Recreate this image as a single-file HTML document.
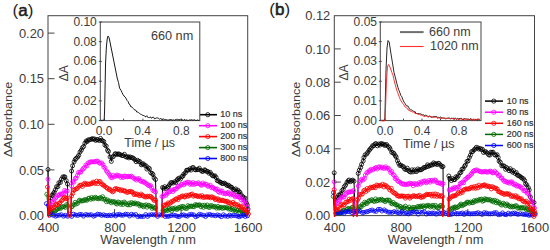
<!DOCTYPE html>
<html><head><meta charset="utf-8"><style>
html,body{margin:0;padding:0;background:#fff;width:550px;height:250px;overflow:hidden}
svg{display:block}
text{font-family:"Liberation Sans",sans-serif}
</style></head><body><svg width="550" height="250" viewBox="0 0 550 250" font-family="&quot;Liberation Sans&quot;, sans-serif" fill="#3c3c3c"><rect x="48.0" y="15.7" width="199.7" height="199.9" fill="none" stroke="#444" stroke-width="1"/><line x1="114.6" y1="215.6" x2="114.6" y2="209.1" stroke="#444" stroke-width="1"/><line x1="181.1" y1="215.6" x2="181.1" y2="209.1" stroke="#444" stroke-width="1"/><path d="M48.0 169.5L48.7 213.0L49.5 211.0L50.6 198.0L52.0 195.4L53.1 194.0L54.1 192.3L55.3 189.9L56.5 186.7L57.9 186.6L58.9 182.7L60.4 182.5L61.5 179.1L62.9 176.8L64.1 177.0L64.9 176.9L66.2 180.6L67.5 184.0L67.9 214.0M71.2 214.0L71.6 171.0L72.6 165.8L74.1 161.9L75.2 159.5L76.2 158.3L77.7 157.0L78.7 155.4L80.0 152.0L81.3 150.2L82.3 147.8L83.6 146.5L84.9 143.2L86.2 141.0L87.1 141.6L88.2 139.9L89.3 139.9L90.9 139.4L92.2 138.6L93.3 139.3L94.4 138.9L95.7 140.4L96.8 139.6L97.7 139.7L99.2 140.5L100.5 138.4L101.5 140.3L102.5 140.8L103.8 141.5L104.9 145.1L106.2 146.0L107.5 150.2L108.5 151.4L110.0 156.9L111.3 161.4L112.2 157.1L113.5 156.4L115.0 153.9L115.8 153.8L117.0 154.5L118.4 153.8L119.3 154.3L120.7 154.9L122.2 155.5L123.1 155.6L124.4 154.3L125.7 156.7L126.9 157.2L127.9 156.7L128.9 157.9L130.1 156.9L131.4 157.6L132.6 157.8L133.7 158.5L134.9 159.7L136.1 161.7L137.6 160.3L138.6 161.5L139.9 161.6L141.3 164.8L142.3 164.0L143.3 163.8L144.6 165.2L146.1 165.9L146.9 169.1L148.3 167.8L149.5 168.7L150.7 172.7L152.1 173.4L153.0 174.6L154.1 177.9L155.5 179.5L156.5 215.0M161.8 215.0L162.5 187.5L163.7 188.3L164.8 186.7L166.2 188.8L167.5 187.4L168.6 186.3L169.5 184.8L170.8 182.7L171.8 182.6L173.1 183.1L174.7 181.7L175.9 182.5L177.1 180.0L177.9 178.9L179.1 178.1L180.5 179.1L181.8 176.6L182.9 176.1L183.8 174.1L185.4 172.8L186.5 170.3L187.4 170.2L188.7 170.0L190.2 168.7L191.1 170.1L192.5 167.7L193.4 167.6L195.0 169.6L195.8 169.9L197.4 169.6L198.3 169.5L199.3 168.2L201.0 170.3L201.9 171.3L203.1 171.4L204.5 169.8L205.4 170.3L206.6 171.5L207.8 171.4L208.9 173.2L210.2 172.3L211.5 174.4L212.6 175.8L213.9 176.0L215.1 175.9L216.2 177.6L217.2 180.6L218.5 180.9L219.9 182.1L220.9 182.4L222.2 183.6L223.2 183.4L224.5 183.1L225.9 184.2L227.0 185.5L228.4 185.2L229.4 186.0L230.6 187.1L231.7 187.3L233.0 189.3L234.3 189.9L235.6 188.9L236.6 191.6L237.9 190.1L238.8 191.7L239.9 192.2L241.1 194.7L242.7 196.5L243.5 197.8L245.0 198.1L246.3 203.0L247.3 205.0L248.0 209.0" fill="none" stroke="#000" stroke-width="1.00" stroke-linejoin="round"/><g fill="none" stroke="#000" stroke-width="0.80"><circle cx="48.0" cy="169.5" r="2.00"/><circle cx="49.5" cy="211.0" r="2.00"/><circle cx="50.6" cy="198.0" r="2.00"/><circle cx="52.0" cy="195.4" r="2.00"/><circle cx="53.1" cy="194.0" r="2.00"/><circle cx="54.1" cy="192.3" r="2.00"/><circle cx="55.3" cy="189.9" r="2.00"/><circle cx="56.5" cy="186.7" r="2.00"/><circle cx="57.9" cy="186.6" r="2.00"/><circle cx="58.9" cy="182.7" r="2.00"/><circle cx="60.4" cy="182.5" r="2.00"/><circle cx="61.5" cy="179.1" r="2.00"/><circle cx="62.9" cy="176.8" r="2.00"/><circle cx="64.1" cy="177.0" r="2.00"/><circle cx="64.9" cy="176.9" r="2.00"/><circle cx="66.2" cy="180.6" r="2.00"/><circle cx="67.5" cy="184.0" r="2.00"/><circle cx="71.6" cy="171.0" r="2.00"/><circle cx="72.6" cy="165.8" r="2.00"/><circle cx="74.1" cy="161.9" r="2.00"/><circle cx="75.2" cy="159.5" r="2.00"/><circle cx="76.2" cy="158.3" r="2.00"/><circle cx="77.7" cy="157.0" r="2.00"/><circle cx="78.7" cy="155.4" r="2.00"/><circle cx="80.0" cy="152.0" r="2.00"/><circle cx="81.3" cy="150.2" r="2.00"/><circle cx="82.3" cy="147.8" r="2.00"/><circle cx="83.6" cy="146.5" r="2.00"/><circle cx="84.9" cy="143.2" r="2.00"/><circle cx="86.2" cy="141.0" r="2.00"/><circle cx="87.1" cy="141.6" r="2.00"/><circle cx="88.2" cy="139.9" r="2.00"/><circle cx="89.3" cy="139.9" r="2.00"/><circle cx="90.9" cy="139.4" r="2.00"/><circle cx="92.2" cy="138.6" r="2.00"/><circle cx="93.3" cy="139.3" r="2.00"/><circle cx="94.4" cy="138.9" r="2.00"/><circle cx="95.7" cy="140.4" r="2.00"/><circle cx="96.8" cy="139.6" r="2.00"/><circle cx="97.7" cy="139.7" r="2.00"/><circle cx="99.2" cy="140.5" r="2.00"/><circle cx="100.5" cy="138.4" r="2.00"/><circle cx="101.5" cy="140.3" r="2.00"/><circle cx="102.5" cy="140.8" r="2.00"/><circle cx="103.8" cy="141.5" r="2.00"/><circle cx="104.9" cy="145.1" r="2.00"/><circle cx="106.2" cy="146.0" r="2.00"/><circle cx="107.5" cy="150.2" r="2.00"/><circle cx="108.5" cy="151.4" r="2.00"/><circle cx="110.0" cy="156.9" r="2.00"/><circle cx="111.3" cy="161.4" r="2.00"/><circle cx="112.2" cy="157.1" r="2.00"/><circle cx="113.5" cy="156.4" r="2.00"/><circle cx="115.0" cy="153.9" r="2.00"/><circle cx="115.8" cy="153.8" r="2.00"/><circle cx="117.0" cy="154.5" r="2.00"/><circle cx="118.4" cy="153.8" r="2.00"/><circle cx="119.3" cy="154.3" r="2.00"/><circle cx="120.7" cy="154.9" r="2.00"/><circle cx="122.2" cy="155.5" r="2.00"/><circle cx="123.1" cy="155.6" r="2.00"/><circle cx="124.4" cy="154.3" r="2.00"/><circle cx="125.7" cy="156.7" r="2.00"/><circle cx="126.9" cy="157.2" r="2.00"/><circle cx="127.9" cy="156.7" r="2.00"/><circle cx="128.9" cy="157.9" r="2.00"/><circle cx="130.1" cy="156.9" r="2.00"/><circle cx="131.4" cy="157.6" r="2.00"/><circle cx="132.6" cy="157.8" r="2.00"/><circle cx="133.7" cy="158.5" r="2.00"/><circle cx="134.9" cy="159.7" r="2.00"/><circle cx="136.1" cy="161.7" r="2.00"/><circle cx="137.6" cy="160.3" r="2.00"/><circle cx="138.6" cy="161.5" r="2.00"/><circle cx="139.9" cy="161.6" r="2.00"/><circle cx="141.3" cy="164.8" r="2.00"/><circle cx="142.3" cy="164.0" r="2.00"/><circle cx="143.3" cy="163.8" r="2.00"/><circle cx="144.6" cy="165.2" r="2.00"/><circle cx="146.1" cy="165.9" r="2.00"/><circle cx="146.9" cy="169.1" r="2.00"/><circle cx="148.3" cy="167.8" r="2.00"/><circle cx="149.5" cy="168.7" r="2.00"/><circle cx="150.7" cy="172.7" r="2.00"/><circle cx="152.1" cy="173.4" r="2.00"/><circle cx="153.0" cy="174.6" r="2.00"/><circle cx="154.1" cy="177.9" r="2.00"/><circle cx="155.5" cy="179.5" r="2.00"/><circle cx="162.5" cy="187.5" r="2.00"/><circle cx="163.7" cy="188.3" r="2.00"/><circle cx="164.8" cy="186.7" r="2.00"/><circle cx="166.2" cy="188.8" r="2.00"/><circle cx="167.5" cy="187.4" r="2.00"/><circle cx="168.6" cy="186.3" r="2.00"/><circle cx="169.5" cy="184.8" r="2.00"/><circle cx="170.8" cy="182.7" r="2.00"/><circle cx="171.8" cy="182.6" r="2.00"/><circle cx="173.1" cy="183.1" r="2.00"/><circle cx="174.7" cy="181.7" r="2.00"/><circle cx="175.9" cy="182.5" r="2.00"/><circle cx="177.1" cy="180.0" r="2.00"/><circle cx="177.9" cy="178.9" r="2.00"/><circle cx="179.1" cy="178.1" r="2.00"/><circle cx="180.5" cy="179.1" r="2.00"/><circle cx="181.8" cy="176.6" r="2.00"/><circle cx="182.9" cy="176.1" r="2.00"/><circle cx="183.8" cy="174.1" r="2.00"/><circle cx="185.4" cy="172.8" r="2.00"/><circle cx="186.5" cy="170.3" r="2.00"/><circle cx="187.4" cy="170.2" r="2.00"/><circle cx="188.7" cy="170.0" r="2.00"/><circle cx="190.2" cy="168.7" r="2.00"/><circle cx="191.1" cy="170.1" r="2.00"/><circle cx="192.5" cy="167.7" r="2.00"/><circle cx="193.4" cy="167.6" r="2.00"/><circle cx="195.0" cy="169.6" r="2.00"/><circle cx="195.8" cy="169.9" r="2.00"/><circle cx="197.4" cy="169.6" r="2.00"/><circle cx="198.3" cy="169.5" r="2.00"/><circle cx="199.3" cy="168.2" r="2.00"/><circle cx="201.0" cy="170.3" r="2.00"/><circle cx="201.9" cy="171.3" r="2.00"/><circle cx="203.1" cy="171.4" r="2.00"/><circle cx="204.5" cy="169.8" r="2.00"/><circle cx="205.4" cy="170.3" r="2.00"/><circle cx="206.6" cy="171.5" r="2.00"/><circle cx="207.8" cy="171.4" r="2.00"/><circle cx="208.9" cy="173.2" r="2.00"/><circle cx="210.2" cy="172.3" r="2.00"/><circle cx="211.5" cy="174.4" r="2.00"/><circle cx="212.6" cy="175.8" r="2.00"/><circle cx="213.9" cy="176.0" r="2.00"/><circle cx="215.1" cy="175.9" r="2.00"/><circle cx="216.2" cy="177.6" r="2.00"/><circle cx="217.2" cy="180.6" r="2.00"/><circle cx="218.5" cy="180.9" r="2.00"/><circle cx="219.9" cy="182.1" r="2.00"/><circle cx="220.9" cy="182.4" r="2.00"/><circle cx="222.2" cy="183.6" r="2.00"/><circle cx="223.2" cy="183.4" r="2.00"/><circle cx="224.5" cy="183.1" r="2.00"/><circle cx="225.9" cy="184.2" r="2.00"/><circle cx="227.0" cy="185.5" r="2.00"/><circle cx="228.4" cy="185.2" r="2.00"/><circle cx="229.4" cy="186.0" r="2.00"/><circle cx="230.6" cy="187.1" r="2.00"/><circle cx="231.7" cy="187.3" r="2.00"/><circle cx="233.0" cy="189.3" r="2.00"/><circle cx="234.3" cy="189.9" r="2.00"/><circle cx="235.6" cy="188.9" r="2.00"/><circle cx="236.6" cy="191.6" r="2.00"/><circle cx="237.9" cy="190.1" r="2.00"/><circle cx="238.8" cy="191.7" r="2.00"/><circle cx="239.9" cy="192.2" r="2.00"/><circle cx="241.1" cy="194.7" r="2.00"/><circle cx="242.7" cy="196.5" r="2.00"/><circle cx="243.5" cy="197.8" r="2.00"/><circle cx="245.0" cy="198.1" r="2.00"/><circle cx="246.3" cy="203.0" r="2.00"/><circle cx="247.3" cy="205.0" r="2.00"/><circle cx="248.0" cy="209.0" r="2.00"/></g><path d="M48.0 179.2L48.7 213.0L49.5 211.0L50.5 206.0L51.8 202.1L53.3 201.9L54.1 199.6L55.4 198.1L56.4 197.0L57.9 195.2L59.0 195.5L59.9 194.2L61.4 193.8L62.3 194.2L63.8 193.3L64.6 190.4L65.8 191.4L67.2 191.0L67.9 215.0M71.1 215.0L71.5 186.0L72.6 181.7L73.9 182.1L75.3 178.3L76.1 178.1L77.5 175.4L78.5 172.4L80.0 172.2L80.9 172.0L82.4 169.8L83.3 168.6L84.5 167.5L85.9 165.0L87.1 165.8L88.2 162.9L89.5 162.5L90.5 161.9L91.7 161.8L93.0 161.9L94.4 161.8L95.5 161.6L96.6 161.1L97.8 161.3L99.2 163.0L100.1 163.1L101.7 162.9L102.9 164.6L103.9 167.1L105.0 167.8L106.4 170.8L107.4 172.2L108.8 173.8L109.9 175.4L110.9 177.4L112.1 177.9L113.4 175.3L114.5 176.6L116.1 176.1L117.0 175.0L118.2 175.7L119.3 175.8L120.6 177.4L122.1 176.3L123.0 177.6L124.2 176.0L125.3 176.2L126.7 176.7L127.8 176.8L128.9 176.2L130.1 176.8L131.3 176.1L132.6 177.1L133.9 178.3L135.2 179.0L136.4 180.0L137.4 178.8L138.9 178.6L140.0 180.4L140.9 181.4L142.5 181.3L143.6 182.3L144.5 181.9L145.9 183.5L147.3 184.3L148.3 185.4L149.6 186.0L150.6 185.5L151.7 187.8L152.9 190.5L154.3 191.2L155.5 192.0L156.5 216.0M161.5 216.0L162.0 196.5L163.3 196.4L164.4 193.9L165.8 195.3L166.8 194.0L168.1 192.0L169.3 191.8L170.2 191.1L171.7 190.2L172.9 191.6L174.0 189.3L175.2 189.4L176.6 188.6L177.7 186.5L178.6 186.4L180.1 185.9L181.3 184.4L182.2 184.4L183.7 184.9L184.9 183.0L186.0 183.3L187.2 182.2L188.6 182.3L189.9 184.3L190.6 182.9L192.2 184.4L193.2 182.5L194.3 184.4L195.5 183.5L196.7 183.6L198.3 182.7L199.4 183.9L200.6 184.6L201.5 185.3L202.8 183.0L203.8 184.4L205.2 184.0L206.3 184.4L207.6 186.1L208.6 186.2L210.2 185.2L211.5 187.7L212.7 187.2L213.6 188.1L215.1 189.2L216.0 189.4L217.2 188.9L218.3 191.7L219.6 192.5L220.7 190.9L222.1 191.0L223.2 193.4L224.7 193.3L225.7 193.9L227.1 193.2L228.2 192.3L229.4 193.9L230.6 194.9L231.6 193.6L233.1 194.3L234.1 195.4L235.2 196.9L236.7 196.0L237.8 196.6L238.9 197.3L239.9 197.1L241.1 199.8L242.5 199.1L243.9 202.5L244.9 201.6L245.9 203.9L247.3 207.4" fill="none" stroke="#ff00ff" stroke-width="1.00" stroke-linejoin="round"/><g fill="none" stroke="#ff00ff" stroke-width="0.80"><circle cx="48.0" cy="179.2" r="2.00"/><circle cx="49.5" cy="211.0" r="2.00"/><circle cx="50.5" cy="206.0" r="2.00"/><circle cx="51.8" cy="202.1" r="2.00"/><circle cx="53.3" cy="201.9" r="2.00"/><circle cx="54.1" cy="199.6" r="2.00"/><circle cx="55.4" cy="198.1" r="2.00"/><circle cx="56.4" cy="197.0" r="2.00"/><circle cx="57.9" cy="195.2" r="2.00"/><circle cx="59.0" cy="195.5" r="2.00"/><circle cx="59.9" cy="194.2" r="2.00"/><circle cx="61.4" cy="193.8" r="2.00"/><circle cx="62.3" cy="194.2" r="2.00"/><circle cx="63.8" cy="193.3" r="2.00"/><circle cx="64.6" cy="190.4" r="2.00"/><circle cx="65.8" cy="191.4" r="2.00"/><circle cx="67.2" cy="191.0" r="2.00"/><circle cx="71.5" cy="186.0" r="2.00"/><circle cx="72.6" cy="181.7" r="2.00"/><circle cx="73.9" cy="182.1" r="2.00"/><circle cx="75.3" cy="178.3" r="2.00"/><circle cx="76.1" cy="178.1" r="2.00"/><circle cx="77.5" cy="175.4" r="2.00"/><circle cx="78.5" cy="172.4" r="2.00"/><circle cx="80.0" cy="172.2" r="2.00"/><circle cx="80.9" cy="172.0" r="2.00"/><circle cx="82.4" cy="169.8" r="2.00"/><circle cx="83.3" cy="168.6" r="2.00"/><circle cx="84.5" cy="167.5" r="2.00"/><circle cx="85.9" cy="165.0" r="2.00"/><circle cx="87.1" cy="165.8" r="2.00"/><circle cx="88.2" cy="162.9" r="2.00"/><circle cx="89.5" cy="162.5" r="2.00"/><circle cx="90.5" cy="161.9" r="2.00"/><circle cx="91.7" cy="161.8" r="2.00"/><circle cx="93.0" cy="161.9" r="2.00"/><circle cx="94.4" cy="161.8" r="2.00"/><circle cx="95.5" cy="161.6" r="2.00"/><circle cx="96.6" cy="161.1" r="2.00"/><circle cx="97.8" cy="161.3" r="2.00"/><circle cx="99.2" cy="163.0" r="2.00"/><circle cx="100.1" cy="163.1" r="2.00"/><circle cx="101.7" cy="162.9" r="2.00"/><circle cx="102.9" cy="164.6" r="2.00"/><circle cx="103.9" cy="167.1" r="2.00"/><circle cx="105.0" cy="167.8" r="2.00"/><circle cx="106.4" cy="170.8" r="2.00"/><circle cx="107.4" cy="172.2" r="2.00"/><circle cx="108.8" cy="173.8" r="2.00"/><circle cx="109.9" cy="175.4" r="2.00"/><circle cx="110.9" cy="177.4" r="2.00"/><circle cx="112.1" cy="177.9" r="2.00"/><circle cx="113.4" cy="175.3" r="2.00"/><circle cx="114.5" cy="176.6" r="2.00"/><circle cx="116.1" cy="176.1" r="2.00"/><circle cx="117.0" cy="175.0" r="2.00"/><circle cx="118.2" cy="175.7" r="2.00"/><circle cx="119.3" cy="175.8" r="2.00"/><circle cx="120.6" cy="177.4" r="2.00"/><circle cx="122.1" cy="176.3" r="2.00"/><circle cx="123.0" cy="177.6" r="2.00"/><circle cx="124.2" cy="176.0" r="2.00"/><circle cx="125.3" cy="176.2" r="2.00"/><circle cx="126.7" cy="176.7" r="2.00"/><circle cx="127.8" cy="176.8" r="2.00"/><circle cx="128.9" cy="176.2" r="2.00"/><circle cx="130.1" cy="176.8" r="2.00"/><circle cx="131.3" cy="176.1" r="2.00"/><circle cx="132.6" cy="177.1" r="2.00"/><circle cx="133.9" cy="178.3" r="2.00"/><circle cx="135.2" cy="179.0" r="2.00"/><circle cx="136.4" cy="180.0" r="2.00"/><circle cx="137.4" cy="178.8" r="2.00"/><circle cx="138.9" cy="178.6" r="2.00"/><circle cx="140.0" cy="180.4" r="2.00"/><circle cx="140.9" cy="181.4" r="2.00"/><circle cx="142.5" cy="181.3" r="2.00"/><circle cx="143.6" cy="182.3" r="2.00"/><circle cx="144.5" cy="181.9" r="2.00"/><circle cx="145.9" cy="183.5" r="2.00"/><circle cx="147.3" cy="184.3" r="2.00"/><circle cx="148.3" cy="185.4" r="2.00"/><circle cx="149.6" cy="186.0" r="2.00"/><circle cx="150.6" cy="185.5" r="2.00"/><circle cx="151.7" cy="187.8" r="2.00"/><circle cx="152.9" cy="190.5" r="2.00"/><circle cx="154.3" cy="191.2" r="2.00"/><circle cx="155.5" cy="192.0" r="2.00"/><circle cx="162.0" cy="196.5" r="2.00"/><circle cx="163.3" cy="196.4" r="2.00"/><circle cx="164.4" cy="193.9" r="2.00"/><circle cx="165.8" cy="195.3" r="2.00"/><circle cx="166.8" cy="194.0" r="2.00"/><circle cx="168.1" cy="192.0" r="2.00"/><circle cx="169.3" cy="191.8" r="2.00"/><circle cx="170.2" cy="191.1" r="2.00"/><circle cx="171.7" cy="190.2" r="2.00"/><circle cx="172.9" cy="191.6" r="2.00"/><circle cx="174.0" cy="189.3" r="2.00"/><circle cx="175.2" cy="189.4" r="2.00"/><circle cx="176.6" cy="188.6" r="2.00"/><circle cx="177.7" cy="186.5" r="2.00"/><circle cx="178.6" cy="186.4" r="2.00"/><circle cx="180.1" cy="185.9" r="2.00"/><circle cx="181.3" cy="184.4" r="2.00"/><circle cx="182.2" cy="184.4" r="2.00"/><circle cx="183.7" cy="184.9" r="2.00"/><circle cx="184.9" cy="183.0" r="2.00"/><circle cx="186.0" cy="183.3" r="2.00"/><circle cx="187.2" cy="182.2" r="2.00"/><circle cx="188.6" cy="182.3" r="2.00"/><circle cx="189.9" cy="184.3" r="2.00"/><circle cx="190.6" cy="182.9" r="2.00"/><circle cx="192.2" cy="184.4" r="2.00"/><circle cx="193.2" cy="182.5" r="2.00"/><circle cx="194.3" cy="184.4" r="2.00"/><circle cx="195.5" cy="183.5" r="2.00"/><circle cx="196.7" cy="183.6" r="2.00"/><circle cx="198.3" cy="182.7" r="2.00"/><circle cx="199.4" cy="183.9" r="2.00"/><circle cx="200.6" cy="184.6" r="2.00"/><circle cx="201.5" cy="185.3" r="2.00"/><circle cx="202.8" cy="183.0" r="2.00"/><circle cx="203.8" cy="184.4" r="2.00"/><circle cx="205.2" cy="184.0" r="2.00"/><circle cx="206.3" cy="184.4" r="2.00"/><circle cx="207.6" cy="186.1" r="2.00"/><circle cx="208.6" cy="186.2" r="2.00"/><circle cx="210.2" cy="185.2" r="2.00"/><circle cx="211.5" cy="187.7" r="2.00"/><circle cx="212.7" cy="187.2" r="2.00"/><circle cx="213.6" cy="188.1" r="2.00"/><circle cx="215.1" cy="189.2" r="2.00"/><circle cx="216.0" cy="189.4" r="2.00"/><circle cx="217.2" cy="188.9" r="2.00"/><circle cx="218.3" cy="191.7" r="2.00"/><circle cx="219.6" cy="192.5" r="2.00"/><circle cx="220.7" cy="190.9" r="2.00"/><circle cx="222.1" cy="191.0" r="2.00"/><circle cx="223.2" cy="193.4" r="2.00"/><circle cx="224.7" cy="193.3" r="2.00"/><circle cx="225.7" cy="193.9" r="2.00"/><circle cx="227.1" cy="193.2" r="2.00"/><circle cx="228.2" cy="192.3" r="2.00"/><circle cx="229.4" cy="193.9" r="2.00"/><circle cx="230.6" cy="194.9" r="2.00"/><circle cx="231.6" cy="193.6" r="2.00"/><circle cx="233.1" cy="194.3" r="2.00"/><circle cx="234.1" cy="195.4" r="2.00"/><circle cx="235.2" cy="196.9" r="2.00"/><circle cx="236.7" cy="196.0" r="2.00"/><circle cx="237.8" cy="196.6" r="2.00"/><circle cx="238.9" cy="197.3" r="2.00"/><circle cx="239.9" cy="197.1" r="2.00"/><circle cx="241.1" cy="199.8" r="2.00"/><circle cx="242.5" cy="199.1" r="2.00"/><circle cx="243.9" cy="202.5" r="2.00"/><circle cx="244.9" cy="201.6" r="2.00"/><circle cx="245.9" cy="203.9" r="2.00"/><circle cx="247.3" cy="207.4" r="2.00"/></g><path d="M46.8 194.3L48.6 214.0L49.5 213.5L50.6 211.8L51.8 211.8L53.1 213.0L54.4 211.1L55.5 210.8L56.6 209.7L57.7 208.9L59.3 207.9L60.3 208.7L61.7 207.1L62.6 206.7L63.8 206.7L65.3 207.4L66.5 204.6L67.5 205.5L67.9 216.0M71.1 216.0L71.5 207.0L72.5 206.2L74.1 204.6L75.1 202.3L76.2 204.0L77.7 203.2L78.9 200.9L79.7 200.1L81.1 201.1L82.5 200.8L83.6 200.6L84.7 199.5L85.7 200.0L87.0 200.3L88.4 198.4L89.3 198.2L90.8 199.3L91.7 197.5L93.1 198.9L94.2 197.9L95.6 197.2L96.6 198.4L98.1 198.8L99.3 198.3L100.2 197.6L101.7 198.7L102.6 196.7L103.9 199.3L105.1 199.2L106.4 201.7L107.4 199.9L108.6 201.4L110.0 201.0L111.2 202.8L112.3 201.5L113.7 201.9L114.9 201.8L115.8 203.4L117.0 204.1L118.3 202.0L119.4 202.7L120.8 204.3L121.7 202.8L123.0 204.5L124.1 202.0L125.3 203.0L126.9 204.5L128.0 204.9L129.3 203.1L130.1 204.9L131.6 202.5L132.8 203.6L133.8 203.7L134.9 202.9L136.2 204.1L137.7 203.6L138.9 204.0L139.8 205.9L141.3 205.0L142.1 205.4L143.4 206.8L144.5 205.5L146.1 204.8L147.1 207.2L148.4 205.3L149.3 205.6L150.9 206.4L152.0 208.4L153.0 206.9L154.5 208.1L155.5 208.0L157.0 216.0M162.5 216.0L163.0 210.5L164.1 210.9L165.3 209.5L166.3 210.7L168.0 210.2L169.2 208.3L170.0 209.4L171.6 210.6L172.5 208.4L173.7 208.9L175.1 207.9L176.3 209.3L177.5 209.2L178.5 207.7L179.6 207.7L181.0 206.7L181.9 208.4L183.1 206.3L184.2 207.5L185.6 208.5L187.0 208.3L187.9 205.6L189.0 206.6L190.5 206.3L191.5 206.0L192.8 206.5L194.1 206.8L195.3 204.6L196.5 205.1L197.6 205.3L198.9 204.9L199.8 205.0L201.0 206.8L202.4 205.4L203.5 207.3L204.7 205.2L206.0 206.5L207.3 205.0L208.3 207.1L209.6 207.5L210.4 205.8L211.7 205.6L213.3 206.9L214.4 206.5L215.6 206.9L216.5 208.1L218.0 206.4L219.0 208.1L220.0 207.5L221.2 207.2L222.4 208.4L223.8 207.5L224.7 207.9L226.2 207.7L227.2 207.9L228.7 209.0L229.5 208.0L230.9 209.4L232.2 208.3L233.1 210.2L234.4 209.2L235.6 211.4L236.8 210.5L238.0 210.4L239.4 212.2L240.4 210.2L241.7 210.6L242.6 212.9L244.0 213.0L245.2 213.5L246.4 212.8" fill="none" stroke="#006a00" stroke-width="1.00" stroke-linejoin="round"/><g fill="none" stroke="#006a00" stroke-width="0.80"><circle cx="46.8" cy="194.3" r="2.00"/><circle cx="49.5" cy="213.5" r="2.00"/><circle cx="50.6" cy="211.8" r="2.00"/><circle cx="51.8" cy="211.8" r="2.00"/><circle cx="53.1" cy="213.0" r="2.00"/><circle cx="54.4" cy="211.1" r="2.00"/><circle cx="55.5" cy="210.8" r="2.00"/><circle cx="56.6" cy="209.7" r="2.00"/><circle cx="57.7" cy="208.9" r="2.00"/><circle cx="59.3" cy="207.9" r="2.00"/><circle cx="60.3" cy="208.7" r="2.00"/><circle cx="61.7" cy="207.1" r="2.00"/><circle cx="62.6" cy="206.7" r="2.00"/><circle cx="63.8" cy="206.7" r="2.00"/><circle cx="65.3" cy="207.4" r="2.00"/><circle cx="66.5" cy="204.6" r="2.00"/><circle cx="67.5" cy="205.5" r="2.00"/><circle cx="71.5" cy="207.0" r="2.00"/><circle cx="72.5" cy="206.2" r="2.00"/><circle cx="74.1" cy="204.6" r="2.00"/><circle cx="75.1" cy="202.3" r="2.00"/><circle cx="76.2" cy="204.0" r="2.00"/><circle cx="77.7" cy="203.2" r="2.00"/><circle cx="78.9" cy="200.9" r="2.00"/><circle cx="79.7" cy="200.1" r="2.00"/><circle cx="81.1" cy="201.1" r="2.00"/><circle cx="82.5" cy="200.8" r="2.00"/><circle cx="83.6" cy="200.6" r="2.00"/><circle cx="84.7" cy="199.5" r="2.00"/><circle cx="85.7" cy="200.0" r="2.00"/><circle cx="87.0" cy="200.3" r="2.00"/><circle cx="88.4" cy="198.4" r="2.00"/><circle cx="89.3" cy="198.2" r="2.00"/><circle cx="90.8" cy="199.3" r="2.00"/><circle cx="91.7" cy="197.5" r="2.00"/><circle cx="93.1" cy="198.9" r="2.00"/><circle cx="94.2" cy="197.9" r="2.00"/><circle cx="95.6" cy="197.2" r="2.00"/><circle cx="96.6" cy="198.4" r="2.00"/><circle cx="98.1" cy="198.8" r="2.00"/><circle cx="99.3" cy="198.3" r="2.00"/><circle cx="100.2" cy="197.6" r="2.00"/><circle cx="101.7" cy="198.7" r="2.00"/><circle cx="102.6" cy="196.7" r="2.00"/><circle cx="103.9" cy="199.3" r="2.00"/><circle cx="105.1" cy="199.2" r="2.00"/><circle cx="106.4" cy="201.7" r="2.00"/><circle cx="107.4" cy="199.9" r="2.00"/><circle cx="108.6" cy="201.4" r="2.00"/><circle cx="110.0" cy="201.0" r="2.00"/><circle cx="111.2" cy="202.8" r="2.00"/><circle cx="112.3" cy="201.5" r="2.00"/><circle cx="113.7" cy="201.9" r="2.00"/><circle cx="114.9" cy="201.8" r="2.00"/><circle cx="115.8" cy="203.4" r="2.00"/><circle cx="117.0" cy="204.1" r="2.00"/><circle cx="118.3" cy="202.0" r="2.00"/><circle cx="119.4" cy="202.7" r="2.00"/><circle cx="120.8" cy="204.3" r="2.00"/><circle cx="121.7" cy="202.8" r="2.00"/><circle cx="123.0" cy="204.5" r="2.00"/><circle cx="124.1" cy="202.0" r="2.00"/><circle cx="125.3" cy="203.0" r="2.00"/><circle cx="126.9" cy="204.5" r="2.00"/><circle cx="128.0" cy="204.9" r="2.00"/><circle cx="129.3" cy="203.1" r="2.00"/><circle cx="130.1" cy="204.9" r="2.00"/><circle cx="131.6" cy="202.5" r="2.00"/><circle cx="132.8" cy="203.6" r="2.00"/><circle cx="133.8" cy="203.7" r="2.00"/><circle cx="134.9" cy="202.9" r="2.00"/><circle cx="136.2" cy="204.1" r="2.00"/><circle cx="137.7" cy="203.6" r="2.00"/><circle cx="138.9" cy="204.0" r="2.00"/><circle cx="139.8" cy="205.9" r="2.00"/><circle cx="141.3" cy="205.0" r="2.00"/><circle cx="142.1" cy="205.4" r="2.00"/><circle cx="143.4" cy="206.8" r="2.00"/><circle cx="144.5" cy="205.5" r="2.00"/><circle cx="146.1" cy="204.8" r="2.00"/><circle cx="147.1" cy="207.2" r="2.00"/><circle cx="148.4" cy="205.3" r="2.00"/><circle cx="149.3" cy="205.6" r="2.00"/><circle cx="150.9" cy="206.4" r="2.00"/><circle cx="152.0" cy="208.4" r="2.00"/><circle cx="153.0" cy="206.9" r="2.00"/><circle cx="154.5" cy="208.1" r="2.00"/><circle cx="155.5" cy="208.0" r="2.00"/><circle cx="163.0" cy="210.5" r="2.00"/><circle cx="164.1" cy="210.9" r="2.00"/><circle cx="165.3" cy="209.5" r="2.00"/><circle cx="166.3" cy="210.7" r="2.00"/><circle cx="168.0" cy="210.2" r="2.00"/><circle cx="169.2" cy="208.3" r="2.00"/><circle cx="170.0" cy="209.4" r="2.00"/><circle cx="171.6" cy="210.6" r="2.00"/><circle cx="172.5" cy="208.4" r="2.00"/><circle cx="173.7" cy="208.9" r="2.00"/><circle cx="175.1" cy="207.9" r="2.00"/><circle cx="176.3" cy="209.3" r="2.00"/><circle cx="177.5" cy="209.2" r="2.00"/><circle cx="178.5" cy="207.7" r="2.00"/><circle cx="179.6" cy="207.7" r="2.00"/><circle cx="181.0" cy="206.7" r="2.00"/><circle cx="181.9" cy="208.4" r="2.00"/><circle cx="183.1" cy="206.3" r="2.00"/><circle cx="184.2" cy="207.5" r="2.00"/><circle cx="185.6" cy="208.5" r="2.00"/><circle cx="187.0" cy="208.3" r="2.00"/><circle cx="187.9" cy="205.6" r="2.00"/><circle cx="189.0" cy="206.6" r="2.00"/><circle cx="190.5" cy="206.3" r="2.00"/><circle cx="191.5" cy="206.0" r="2.00"/><circle cx="192.8" cy="206.5" r="2.00"/><circle cx="194.1" cy="206.8" r="2.00"/><circle cx="195.3" cy="204.6" r="2.00"/><circle cx="196.5" cy="205.1" r="2.00"/><circle cx="197.6" cy="205.3" r="2.00"/><circle cx="198.9" cy="204.9" r="2.00"/><circle cx="199.8" cy="205.0" r="2.00"/><circle cx="201.0" cy="206.8" r="2.00"/><circle cx="202.4" cy="205.4" r="2.00"/><circle cx="203.5" cy="207.3" r="2.00"/><circle cx="204.7" cy="205.2" r="2.00"/><circle cx="206.0" cy="206.5" r="2.00"/><circle cx="207.3" cy="205.0" r="2.00"/><circle cx="208.3" cy="207.1" r="2.00"/><circle cx="209.6" cy="207.5" r="2.00"/><circle cx="210.4" cy="205.8" r="2.00"/><circle cx="211.7" cy="205.6" r="2.00"/><circle cx="213.3" cy="206.9" r="2.00"/><circle cx="214.4" cy="206.5" r="2.00"/><circle cx="215.6" cy="206.9" r="2.00"/><circle cx="216.5" cy="208.1" r="2.00"/><circle cx="218.0" cy="206.4" r="2.00"/><circle cx="219.0" cy="208.1" r="2.00"/><circle cx="220.0" cy="207.5" r="2.00"/><circle cx="221.2" cy="207.2" r="2.00"/><circle cx="222.4" cy="208.4" r="2.00"/><circle cx="223.8" cy="207.5" r="2.00"/><circle cx="224.7" cy="207.9" r="2.00"/><circle cx="226.2" cy="207.7" r="2.00"/><circle cx="227.2" cy="207.9" r="2.00"/><circle cx="228.7" cy="209.0" r="2.00"/><circle cx="229.5" cy="208.0" r="2.00"/><circle cx="230.9" cy="209.4" r="2.00"/><circle cx="232.2" cy="208.3" r="2.00"/><circle cx="233.1" cy="210.2" r="2.00"/><circle cx="234.4" cy="209.2" r="2.00"/><circle cx="235.6" cy="211.4" r="2.00"/><circle cx="236.8" cy="210.5" r="2.00"/><circle cx="238.0" cy="210.4" r="2.00"/><circle cx="239.4" cy="212.2" r="2.00"/><circle cx="240.4" cy="210.2" r="2.00"/><circle cx="241.7" cy="210.6" r="2.00"/><circle cx="242.6" cy="212.9" r="2.00"/><circle cx="244.0" cy="213.0" r="2.00"/><circle cx="245.2" cy="213.5" r="2.00"/><circle cx="246.4" cy="212.8" r="2.00"/></g><path d="M46.4 203.6L48.6 214.0L49.5 215.2L51.5 214.4L53.3 215.3L55.6 216.2L57.3 215.5L59.4 215.2L61.3 214.7L63.5 216.2L65.3 215.2L67.7 216.3L69.3 214.3L71.7 216.4L73.5 214.2L75.7 215.0L77.7 215.5L79.7 214.4L81.6 214.6L83.5 216.1L85.7 214.5L87.4 215.0L89.5 215.0L91.3 214.7L93.6 216.2L95.3 215.4L97.6 214.2L99.7 214.4L101.5 215.4L103.6 214.8L105.5 215.5L107.5 215.7L109.5 215.2L111.3 215.6L113.5 214.7L115.6 216.0L117.5 214.6L119.5 214.4L121.3 215.2L123.3 215.2L125.5 214.2L127.6 214.4L129.6 216.0L131.5 214.3L133.5 215.1L135.7 214.5L137.7 216.6L139.6 216.1L141.3 216.5L143.5 216.5L145.7 214.6L147.6 216.4L149.3 215.0L151.6 214.6L153.7 214.9L155.7 214.6L157.5 216.4L159.4 214.8L161.5 215.0L163.3 214.7L165.3 216.5L167.6 216.4L169.3 216.1L171.3 215.5L173.6 215.1L175.7 215.6L177.5 216.4L179.3 216.6L181.6 215.2L183.6 214.9L185.7 215.7L187.4 216.1L189.5 214.7L191.6 214.4L193.7 214.9L195.6 216.7L197.5 215.9L199.4 214.3L201.3 214.7L203.6 215.4L205.5 216.5L207.3 214.9L209.6 214.4L211.3 215.2L213.3 215.2L215.4 215.8L217.5 214.9L219.6 215.6L221.3 216.7L223.4 214.8L225.3 216.0L227.7 216.4L229.5 215.1L231.3 216.0L233.5 215.4L235.6 215.6L237.7 216.3L239.4 216.7L241.3 215.8L243.5 215.1L245.3 216.5L247.5 215.8" fill="none" stroke="#0000ff" stroke-width="1.00" stroke-linejoin="round"/><g fill="none" stroke="#0000ff" stroke-width="0.80"><circle cx="46.4" cy="203.6" r="2.00"/><circle cx="49.5" cy="215.2" r="2.00"/><circle cx="51.5" cy="214.4" r="2.00"/><circle cx="53.3" cy="215.3" r="2.00"/><circle cx="55.6" cy="216.2" r="2.00"/><circle cx="57.3" cy="215.5" r="2.00"/><circle cx="59.4" cy="215.2" r="2.00"/><circle cx="61.3" cy="214.7" r="2.00"/><circle cx="63.5" cy="216.2" r="2.00"/><circle cx="65.3" cy="215.2" r="2.00"/><circle cx="67.7" cy="216.3" r="2.00"/><circle cx="69.3" cy="214.3" r="2.00"/><circle cx="71.7" cy="216.4" r="2.00"/><circle cx="73.5" cy="214.2" r="2.00"/><circle cx="75.7" cy="215.0" r="2.00"/><circle cx="77.7" cy="215.5" r="2.00"/><circle cx="79.7" cy="214.4" r="2.00"/><circle cx="81.6" cy="214.6" r="2.00"/><circle cx="83.5" cy="216.1" r="2.00"/><circle cx="85.7" cy="214.5" r="2.00"/><circle cx="87.4" cy="215.0" r="2.00"/><circle cx="89.5" cy="215.0" r="2.00"/><circle cx="91.3" cy="214.7" r="2.00"/><circle cx="93.6" cy="216.2" r="2.00"/><circle cx="95.3" cy="215.4" r="2.00"/><circle cx="97.6" cy="214.2" r="2.00"/><circle cx="99.7" cy="214.4" r="2.00"/><circle cx="101.5" cy="215.4" r="2.00"/><circle cx="103.6" cy="214.8" r="2.00"/><circle cx="105.5" cy="215.5" r="2.00"/><circle cx="107.5" cy="215.7" r="2.00"/><circle cx="109.5" cy="215.2" r="2.00"/><circle cx="111.3" cy="215.6" r="2.00"/><circle cx="113.5" cy="214.7" r="2.00"/><circle cx="115.6" cy="216.0" r="2.00"/><circle cx="117.5" cy="214.6" r="2.00"/><circle cx="119.5" cy="214.4" r="2.00"/><circle cx="121.3" cy="215.2" r="2.00"/><circle cx="123.3" cy="215.2" r="2.00"/><circle cx="125.5" cy="214.2" r="2.00"/><circle cx="127.6" cy="214.4" r="2.00"/><circle cx="129.6" cy="216.0" r="2.00"/><circle cx="131.5" cy="214.3" r="2.00"/><circle cx="133.5" cy="215.1" r="2.00"/><circle cx="135.7" cy="214.5" r="2.00"/><circle cx="137.7" cy="216.6" r="2.00"/><circle cx="139.6" cy="216.1" r="2.00"/><circle cx="141.3" cy="216.5" r="2.00"/><circle cx="143.5" cy="216.5" r="2.00"/><circle cx="145.7" cy="214.6" r="2.00"/><circle cx="147.6" cy="216.4" r="2.00"/><circle cx="149.3" cy="215.0" r="2.00"/><circle cx="151.6" cy="214.6" r="2.00"/><circle cx="153.7" cy="214.9" r="2.00"/><circle cx="155.7" cy="214.6" r="2.00"/><circle cx="157.5" cy="216.4" r="2.00"/><circle cx="159.4" cy="214.8" r="2.00"/><circle cx="161.5" cy="215.0" r="2.00"/><circle cx="163.3" cy="214.7" r="2.00"/><circle cx="165.3" cy="216.5" r="2.00"/><circle cx="167.6" cy="216.4" r="2.00"/><circle cx="169.3" cy="216.1" r="2.00"/><circle cx="171.3" cy="215.5" r="2.00"/><circle cx="173.6" cy="215.1" r="2.00"/><circle cx="175.7" cy="215.6" r="2.00"/><circle cx="177.5" cy="216.4" r="2.00"/><circle cx="179.3" cy="216.6" r="2.00"/><circle cx="181.6" cy="215.2" r="2.00"/><circle cx="183.6" cy="214.9" r="2.00"/><circle cx="185.7" cy="215.7" r="2.00"/><circle cx="187.4" cy="216.1" r="2.00"/><circle cx="189.5" cy="214.7" r="2.00"/><circle cx="191.6" cy="214.4" r="2.00"/><circle cx="193.7" cy="214.9" r="2.00"/><circle cx="195.6" cy="216.7" r="2.00"/><circle cx="197.5" cy="215.9" r="2.00"/><circle cx="199.4" cy="214.3" r="2.00"/><circle cx="201.3" cy="214.7" r="2.00"/><circle cx="203.6" cy="215.4" r="2.00"/><circle cx="205.5" cy="216.5" r="2.00"/><circle cx="207.3" cy="214.9" r="2.00"/><circle cx="209.6" cy="214.4" r="2.00"/><circle cx="211.3" cy="215.2" r="2.00"/><circle cx="213.3" cy="215.2" r="2.00"/><circle cx="215.4" cy="215.8" r="2.00"/><circle cx="217.5" cy="214.9" r="2.00"/><circle cx="219.6" cy="215.6" r="2.00"/><circle cx="221.3" cy="216.7" r="2.00"/><circle cx="223.4" cy="214.8" r="2.00"/><circle cx="225.3" cy="216.0" r="2.00"/><circle cx="227.7" cy="216.4" r="2.00"/><circle cx="229.5" cy="215.1" r="2.00"/><circle cx="231.3" cy="216.0" r="2.00"/><circle cx="233.5" cy="215.4" r="2.00"/><circle cx="235.6" cy="215.6" r="2.00"/><circle cx="237.7" cy="216.3" r="2.00"/><circle cx="239.4" cy="216.7" r="2.00"/><circle cx="241.3" cy="215.8" r="2.00"/><circle cx="243.5" cy="215.1" r="2.00"/><circle cx="245.3" cy="216.5" r="2.00"/><circle cx="247.5" cy="215.8" r="2.00"/></g><path d="M47.5 187.0L48.6 214.0L49.5 212.0L50.4 209.8L52.1 207.3L52.9 207.7L54.2 206.8L55.6 204.6L56.5 204.0L57.5 204.7L59.1 203.3L59.9 202.7L61.4 200.7L62.6 199.9L63.5 198.2L64.7 197.2L65.9 198.7L67.2 198.0L67.9 216.0M71.1 216.0L71.5 196.0L72.8 193.4L74.0 190.0L75.1 189.5L76.4 188.8L77.4 188.3L78.9 186.4L80.1 185.2L81.0 185.2L82.4 186.5L83.6 184.0L84.9 183.2L85.8 184.6L87.2 183.8L88.4 184.5L89.5 184.0L90.8 183.9L91.9 183.4L93.1 182.0L94.2 182.7L95.3 183.5L96.5 181.1L97.7 183.7L99.0 181.6L100.1 181.6L101.6 183.9L102.8 184.9L103.7 185.1L105.0 186.5L106.5 187.5L107.3 188.2L108.9 189.6L109.7 189.1L110.9 190.6L112.5 191.9L113.6 191.2L114.8 189.1L115.7 188.5L117.2 188.9L118.2 189.6L119.3 189.3L120.6 190.7L121.8 189.9L123.3 190.6L124.5 191.2L125.3 190.9L126.7 192.3L127.8 192.4L129.1 191.4L130.5 191.4L131.7 191.9L132.5 192.2L134.0 194.6L134.9 193.5L136.3 194.6L137.3 194.0L138.6 195.2L139.8 195.7L141.0 194.0L142.4 195.2L143.3 195.9L144.5 196.7L146.0 197.1L147.2 196.2L148.3 196.7L149.7 196.2L150.9 196.5L151.8 197.7L153.3 198.9L154.2 200.5L155.5 200.0L157.0 216.0M163.0 216.0L163.5 205.5L164.6 204.8L165.9 205.1L167.2 204.2L168.2 202.8L169.3 203.7L170.8 202.8L171.7 201.4L173.2 201.2L174.1 200.2L175.7 199.1L176.5 198.8L178.0 199.8L178.9 197.4L180.2 197.4L181.5 196.4L182.6 195.9L184.1 196.8L184.9 197.0L186.1 195.2L187.7 196.3L188.8 195.1L189.7 195.6L190.9 194.4L192.2 194.0L193.4 196.2L194.8 195.5L196.0 195.5L196.9 196.1L198.3 196.6L199.7 195.9L200.7 196.9L201.9 195.6L203.2 197.5L204.4 197.0L205.7 197.1L206.8 196.6L207.8 197.3L208.9 196.8L210.4 197.8L211.6 196.7L212.7 197.5L214.0 197.7L215.2 199.5L216.1 199.1L217.6 198.7L218.7 200.6L219.7 199.7L220.9 200.6L222.5 200.2L223.3 200.6L224.7 201.2L225.9 201.2L227.3 201.3L228.3 202.9L229.4 202.6L230.6 203.3L231.7 204.4L233.0 202.3L234.2 203.7L235.3 204.2L236.7 205.4L237.8 204.7L239.0 206.5L240.5 206.3L241.4 207.7L242.6 207.0L243.7 209.5L245.3 210.1L246.3 211.0L247.5 212.0L248.5 214.0" fill="none" stroke="#ff0000" stroke-width="1.00" stroke-linejoin="round"/><g fill="none" stroke="#ff0000" stroke-width="0.80"><circle cx="47.5" cy="187.0" r="2.00"/><circle cx="49.5" cy="212.0" r="2.00"/><circle cx="50.4" cy="209.8" r="2.00"/><circle cx="52.1" cy="207.3" r="2.00"/><circle cx="52.9" cy="207.7" r="2.00"/><circle cx="54.2" cy="206.8" r="2.00"/><circle cx="55.6" cy="204.6" r="2.00"/><circle cx="56.5" cy="204.0" r="2.00"/><circle cx="57.5" cy="204.7" r="2.00"/><circle cx="59.1" cy="203.3" r="2.00"/><circle cx="59.9" cy="202.7" r="2.00"/><circle cx="61.4" cy="200.7" r="2.00"/><circle cx="62.6" cy="199.9" r="2.00"/><circle cx="63.5" cy="198.2" r="2.00"/><circle cx="64.7" cy="197.2" r="2.00"/><circle cx="65.9" cy="198.7" r="2.00"/><circle cx="67.2" cy="198.0" r="2.00"/><circle cx="71.5" cy="196.0" r="2.00"/><circle cx="72.8" cy="193.4" r="2.00"/><circle cx="74.0" cy="190.0" r="2.00"/><circle cx="75.1" cy="189.5" r="2.00"/><circle cx="76.4" cy="188.8" r="2.00"/><circle cx="77.4" cy="188.3" r="2.00"/><circle cx="78.9" cy="186.4" r="2.00"/><circle cx="80.1" cy="185.2" r="2.00"/><circle cx="81.0" cy="185.2" r="2.00"/><circle cx="82.4" cy="186.5" r="2.00"/><circle cx="83.6" cy="184.0" r="2.00"/><circle cx="84.9" cy="183.2" r="2.00"/><circle cx="85.8" cy="184.6" r="2.00"/><circle cx="87.2" cy="183.8" r="2.00"/><circle cx="88.4" cy="184.5" r="2.00"/><circle cx="89.5" cy="184.0" r="2.00"/><circle cx="90.8" cy="183.9" r="2.00"/><circle cx="91.9" cy="183.4" r="2.00"/><circle cx="93.1" cy="182.0" r="2.00"/><circle cx="94.2" cy="182.7" r="2.00"/><circle cx="95.3" cy="183.5" r="2.00"/><circle cx="96.5" cy="181.1" r="2.00"/><circle cx="97.7" cy="183.7" r="2.00"/><circle cx="99.0" cy="181.6" r="2.00"/><circle cx="100.1" cy="181.6" r="2.00"/><circle cx="101.6" cy="183.9" r="2.00"/><circle cx="102.8" cy="184.9" r="2.00"/><circle cx="103.7" cy="185.1" r="2.00"/><circle cx="105.0" cy="186.5" r="2.00"/><circle cx="106.5" cy="187.5" r="2.00"/><circle cx="107.3" cy="188.2" r="2.00"/><circle cx="108.9" cy="189.6" r="2.00"/><circle cx="109.7" cy="189.1" r="2.00"/><circle cx="110.9" cy="190.6" r="2.00"/><circle cx="112.5" cy="191.9" r="2.00"/><circle cx="113.6" cy="191.2" r="2.00"/><circle cx="114.8" cy="189.1" r="2.00"/><circle cx="115.7" cy="188.5" r="2.00"/><circle cx="117.2" cy="188.9" r="2.00"/><circle cx="118.2" cy="189.6" r="2.00"/><circle cx="119.3" cy="189.3" r="2.00"/><circle cx="120.6" cy="190.7" r="2.00"/><circle cx="121.8" cy="189.9" r="2.00"/><circle cx="123.3" cy="190.6" r="2.00"/><circle cx="124.5" cy="191.2" r="2.00"/><circle cx="125.3" cy="190.9" r="2.00"/><circle cx="126.7" cy="192.3" r="2.00"/><circle cx="127.8" cy="192.4" r="2.00"/><circle cx="129.1" cy="191.4" r="2.00"/><circle cx="130.5" cy="191.4" r="2.00"/><circle cx="131.7" cy="191.9" r="2.00"/><circle cx="132.5" cy="192.2" r="2.00"/><circle cx="134.0" cy="194.6" r="2.00"/><circle cx="134.9" cy="193.5" r="2.00"/><circle cx="136.3" cy="194.6" r="2.00"/><circle cx="137.3" cy="194.0" r="2.00"/><circle cx="138.6" cy="195.2" r="2.00"/><circle cx="139.8" cy="195.7" r="2.00"/><circle cx="141.0" cy="194.0" r="2.00"/><circle cx="142.4" cy="195.2" r="2.00"/><circle cx="143.3" cy="195.9" r="2.00"/><circle cx="144.5" cy="196.7" r="2.00"/><circle cx="146.0" cy="197.1" r="2.00"/><circle cx="147.2" cy="196.2" r="2.00"/><circle cx="148.3" cy="196.7" r="2.00"/><circle cx="149.7" cy="196.2" r="2.00"/><circle cx="150.9" cy="196.5" r="2.00"/><circle cx="151.8" cy="197.7" r="2.00"/><circle cx="153.3" cy="198.9" r="2.00"/><circle cx="154.2" cy="200.5" r="2.00"/><circle cx="155.5" cy="200.0" r="2.00"/><circle cx="163.5" cy="205.5" r="2.00"/><circle cx="164.6" cy="204.8" r="2.00"/><circle cx="165.9" cy="205.1" r="2.00"/><circle cx="167.2" cy="204.2" r="2.00"/><circle cx="168.2" cy="202.8" r="2.00"/><circle cx="169.3" cy="203.7" r="2.00"/><circle cx="170.8" cy="202.8" r="2.00"/><circle cx="171.7" cy="201.4" r="2.00"/><circle cx="173.2" cy="201.2" r="2.00"/><circle cx="174.1" cy="200.2" r="2.00"/><circle cx="175.7" cy="199.1" r="2.00"/><circle cx="176.5" cy="198.8" r="2.00"/><circle cx="178.0" cy="199.8" r="2.00"/><circle cx="178.9" cy="197.4" r="2.00"/><circle cx="180.2" cy="197.4" r="2.00"/><circle cx="181.5" cy="196.4" r="2.00"/><circle cx="182.6" cy="195.9" r="2.00"/><circle cx="184.1" cy="196.8" r="2.00"/><circle cx="184.9" cy="197.0" r="2.00"/><circle cx="186.1" cy="195.2" r="2.00"/><circle cx="187.7" cy="196.3" r="2.00"/><circle cx="188.8" cy="195.1" r="2.00"/><circle cx="189.7" cy="195.6" r="2.00"/><circle cx="190.9" cy="194.4" r="2.00"/><circle cx="192.2" cy="194.0" r="2.00"/><circle cx="193.4" cy="196.2" r="2.00"/><circle cx="194.8" cy="195.5" r="2.00"/><circle cx="196.0" cy="195.5" r="2.00"/><circle cx="196.9" cy="196.1" r="2.00"/><circle cx="198.3" cy="196.6" r="2.00"/><circle cx="199.7" cy="195.9" r="2.00"/><circle cx="200.7" cy="196.9" r="2.00"/><circle cx="201.9" cy="195.6" r="2.00"/><circle cx="203.2" cy="197.5" r="2.00"/><circle cx="204.4" cy="197.0" r="2.00"/><circle cx="205.7" cy="197.1" r="2.00"/><circle cx="206.8" cy="196.6" r="2.00"/><circle cx="207.8" cy="197.3" r="2.00"/><circle cx="208.9" cy="196.8" r="2.00"/><circle cx="210.4" cy="197.8" r="2.00"/><circle cx="211.6" cy="196.7" r="2.00"/><circle cx="212.7" cy="197.5" r="2.00"/><circle cx="214.0" cy="197.7" r="2.00"/><circle cx="215.2" cy="199.5" r="2.00"/><circle cx="216.1" cy="199.1" r="2.00"/><circle cx="217.6" cy="198.7" r="2.00"/><circle cx="218.7" cy="200.6" r="2.00"/><circle cx="219.7" cy="199.7" r="2.00"/><circle cx="220.9" cy="200.6" r="2.00"/><circle cx="222.5" cy="200.2" r="2.00"/><circle cx="223.3" cy="200.6" r="2.00"/><circle cx="224.7" cy="201.2" r="2.00"/><circle cx="225.9" cy="201.2" r="2.00"/><circle cx="227.3" cy="201.3" r="2.00"/><circle cx="228.3" cy="202.9" r="2.00"/><circle cx="229.4" cy="202.6" r="2.00"/><circle cx="230.6" cy="203.3" r="2.00"/><circle cx="231.7" cy="204.4" r="2.00"/><circle cx="233.0" cy="202.3" r="2.00"/><circle cx="234.2" cy="203.7" r="2.00"/><circle cx="235.3" cy="204.2" r="2.00"/><circle cx="236.7" cy="205.4" r="2.00"/><circle cx="237.8" cy="204.7" r="2.00"/><circle cx="239.0" cy="206.5" r="2.00"/><circle cx="240.5" cy="206.3" r="2.00"/><circle cx="241.4" cy="207.7" r="2.00"/><circle cx="242.6" cy="207.0" r="2.00"/><circle cx="243.7" cy="209.5" r="2.00"/><circle cx="245.3" cy="210.1" r="2.00"/><circle cx="246.3" cy="211.0" r="2.00"/><circle cx="247.5" cy="212.0" r="2.00"/><circle cx="248.5" cy="214.0" r="2.00"/></g><line x1="48.6" y1="188.0" x2="48.6" y2="217.5" stroke="#ff0000" stroke-width="1.4"/><line x1="67.9" y1="198.0" x2="67.9" y2="217.5" stroke="#ff0000" stroke-width="1.4"/><line x1="71.1" y1="196.0" x2="71.1" y2="217.5" stroke="#ff0000" stroke-width="1.4"/><line x1="157.0" y1="200.0" x2="157.0" y2="217.5" stroke="#ff0000" stroke-width="1.4"/><line x1="162.8" y1="205.5" x2="162.8" y2="217.5" stroke="#ff0000" stroke-width="1.4"/><line x1="48.0" y1="215.5" x2="54.5" y2="215.5" stroke="#444" stroke-width="1"/><text x="44.0" y="220.2" font-size="12.9" text-anchor="end" >0.00</text><line x1="48.0" y1="169.9" x2="54.5" y2="169.9" stroke="#444" stroke-width="1"/><text x="44.0" y="174.6" font-size="12.9" text-anchor="end" >0.05</text><line x1="48.0" y1="124.3" x2="54.5" y2="124.3" stroke="#444" stroke-width="1"/><text x="44.0" y="129.0" font-size="12.9" text-anchor="end" >0.10</text><line x1="48.0" y1="78.7" x2="54.5" y2="78.7" stroke="#444" stroke-width="1"/><text x="44.0" y="83.4" font-size="12.9" text-anchor="end" >0.15</text><line x1="48.0" y1="33.1" x2="54.5" y2="33.1" stroke="#444" stroke-width="1"/><text x="44.0" y="37.8" font-size="12.9" text-anchor="end" >0.20</text><text x="48.5" y="231.8" font-size="12.9" text-anchor="middle" >400</text><text x="115.1" y="231.8" font-size="12.9" text-anchor="middle" >800</text><text x="181.6" y="231.8" font-size="12.9" text-anchor="middle" >1200</text><text x="248.2" y="231.8" font-size="12.9" text-anchor="middle" >1600</text><text x="148.1" y="244.4" font-size="12.8" text-anchor="middle" >Wavelength / nm</text><text transform="translate(12.1,119.6) rotate(-90) scale(1.2,1)" font-size="10.5" text-anchor="middle">&#916;Absorbance</text><text x="12.6" y="15.5" font-size="17.0" text-anchor="start" fill="#1e1e1e">(<tspan stroke="#1e1e1e" stroke-width="0.55">a</tspan>)</text><line x1="199" y1="114.7" x2="217" y2="114.7" stroke="#000" stroke-width="1.6"/><circle cx="207.8" cy="114.7" r="2.1" fill="none" stroke="#000" stroke-width="0.8"/><text x="220.2" y="117.3" font-size="9.0" text-anchor="start" fill="#333" stroke="#333" stroke-width="0.2">10 ns</text><line x1="199" y1="125.7" x2="217" y2="125.7" stroke="#ff00ff" stroke-width="1.6"/><circle cx="207.8" cy="125.7" r="2.1" fill="none" stroke="#ff00ff" stroke-width="0.8"/><text x="220.2" y="128.2" font-size="9.0" text-anchor="start" fill="#333" stroke="#333" stroke-width="0.2">100 ns</text><line x1="199" y1="136.6" x2="217" y2="136.6" stroke="#ff0000" stroke-width="1.6"/><circle cx="207.8" cy="136.6" r="2.1" fill="none" stroke="#ff0000" stroke-width="0.8"/><text x="220.2" y="139.2" font-size="9.0" text-anchor="start" fill="#333" stroke="#333" stroke-width="0.2">200 ns</text><line x1="199" y1="147.6" x2="217" y2="147.6" stroke="#006a00" stroke-width="1.6"/><circle cx="207.8" cy="147.6" r="2.1" fill="none" stroke="#006a00" stroke-width="0.8"/><text x="220.2" y="150.2" font-size="9.0" text-anchor="start" fill="#333" stroke="#333" stroke-width="0.2">300 ns</text><line x1="199" y1="158.5" x2="217" y2="158.5" stroke="#0000ff" stroke-width="1.6"/><circle cx="207.8" cy="158.5" r="2.1" fill="none" stroke="#0000ff" stroke-width="0.8"/><text x="220.2" y="161.1" font-size="9.0" text-anchor="start" fill="#333" stroke="#333" stroke-width="0.2">800 ns</text><rect x="100.3" y="22.0" width="99.5" height="98.6" fill="#fff" stroke="#444" stroke-width="1"/><line x1="98.8" y1="120.6" x2="101.8" y2="120.6" stroke="#444" stroke-width="1"/><text transform="translate(96.80,124.60) scale(0.925,1)" font-size="13.0" text-anchor="end" >0.00</text><line x1="98.8" y1="100.9" x2="101.8" y2="100.9" stroke="#444" stroke-width="1"/><text transform="translate(96.80,104.88) scale(0.925,1)" font-size="13.0" text-anchor="end" >0.02</text><line x1="98.8" y1="81.2" x2="101.8" y2="81.2" stroke="#444" stroke-width="1"/><text transform="translate(96.80,85.16) scale(0.925,1)" font-size="13.0" text-anchor="end" >0.04</text><line x1="98.8" y1="61.4" x2="101.8" y2="61.4" stroke="#444" stroke-width="1"/><text transform="translate(96.80,65.44) scale(0.925,1)" font-size="13.0" text-anchor="end" >0.06</text><line x1="98.8" y1="41.7" x2="101.8" y2="41.7" stroke="#444" stroke-width="1"/><text transform="translate(96.80,45.72) scale(0.925,1)" font-size="13.0" text-anchor="end" >0.08</text><line x1="98.8" y1="22.0" x2="101.8" y2="22.0" stroke="#444" stroke-width="1"/><text transform="translate(96.80,26.00) scale(0.925,1)" font-size="13.0" text-anchor="end" >0.10</text><line x1="104.3" y1="120.6" x2="104.3" y2="118.6" stroke="#444" stroke-width="1"/><line x1="123.6" y1="120.6" x2="123.6" y2="118.6" stroke="#444" stroke-width="1"/><line x1="142.9" y1="120.6" x2="142.9" y2="118.6" stroke="#444" stroke-width="1"/><line x1="162.2" y1="120.6" x2="162.2" y2="118.6" stroke="#444" stroke-width="1"/><line x1="181.5" y1="120.6" x2="181.5" y2="118.6" stroke="#444" stroke-width="1"/><text transform="translate(104.00,134.60) scale(0.925,1)" font-size="13.0" text-anchor="middle" >0.0</text><text transform="translate(142.60,134.60) scale(0.925,1)" font-size="13.0" text-anchor="middle" >0.4</text><text transform="translate(181.30,134.60) scale(0.925,1)" font-size="13.0" text-anchor="middle" >0.8</text><text transform="translate(149.70,146.90) scale(0.925,1)" font-size="13.4" text-anchor="middle" >Time / &#181;s</text><text transform="translate(67.6,73.3) rotate(-90)" font-size="12" text-anchor="middle">&#916;A</text><text transform="translate(150.90,40.00) scale(0.955,1)" font-size="13.3" text-anchor="start" >660 nm</text><path d="M101.0 120.3 L101.8 120.3 L102.6 120.3 L103.4 120.3 L104.2 120.3 L104.6 110.0 L105.0 90.0 L105.6 62.0 L106.4 47.0 L107.2 39.0 L108.0 36.0 L109.0 37.5 L110.0 42.0 L111.2 48.0 L112.4 54.0 L113.6 60.0 L114.8 66.0 L116.0 72.0 L117.2 78.0 L118.5 82.6 L119.6 88.2 L121.0 90.3 L122.0 92.5 L123.0 94.5 L124.0 96.0 L125.0 96.9 L126.0 98.3 L127.0 100.4 L128.0 101.4 L129.0 104.0 L130.0 104.7 L131.0 107.0 L131.8 106.8 L132.6 107.8 L133.4 108.5 L134.2 109.6 L135.0 110.0 L135.9 110.3 L136.8 112.1 L137.7 112.1 L138.6 112.7 L139.5 113.4 L140.4 114.1 L141.3 114.4 L142.2 115.1 L143.2 115.5 L144.1 115.4 L145.0 116.7 L145.9 116.8 L146.8 115.7 L147.6 117.2 L148.5 117.5 L149.4 117.6 L150.2 116.8 L151.1 118.1 L152.0 118.0 L152.8 117.1 L153.7 117.3 L154.5 118.9 L155.3 118.5 L156.2 118.0 L157.0 117.9 L157.8 118.0 L158.7 118.3 L159.5 119.3 L160.3 118.7 L161.2 118.5 L162.0 119.8 L162.8 119.7 L163.6 118.7 L164.4 119.9 L165.2 119.5 L166.1 119.8 L166.9 119.7 L167.7 120.1 L168.5 120.0 L169.3 120.1 L170.1 119.1 L170.9 119.9 L171.8 119.7 L172.6 120.1 L173.4 119.6 L174.2 120.4 L175.0 119.9 L175.8 119.4 L176.6 119.4 L177.4 119.3 L178.2 119.8 L179.0 119.2 L179.8 119.8 L180.6 119.3 L181.4 119.9 L182.2 119.9 L183.0 120.0 L183.8 120.4 L184.6 119.2 L185.4 120.4 L186.2 119.9 L187.0 120.1 L187.8 120.3 L188.6 120.4 L189.4 119.8 L190.2 119.9 L191.0 120.4 L191.8 119.4 L192.6 120.3 L193.4 120.3 L194.2 119.4 L195.0 120.3 L195.8 120.4 L196.6 120.4 L197.4 119.9 L198.2 120.4 L199.0 120.2" fill="none" stroke="#1a1a1a" stroke-width="1.0"/><rect x="334.3" y="15.7" width="200.2" height="199.9" fill="none" stroke="#444" stroke-width="1"/><line x1="401.0" y1="215.6" x2="401.0" y2="209.1" stroke="#444" stroke-width="1"/><line x1="467.8" y1="215.6" x2="467.8" y2="209.1" stroke="#444" stroke-width="1"/><path d="M334.2 172.8L335.0 214.0L336.0 199.0L337.2 197.6L338.6 195.0L339.7 195.4L340.7 193.9L341.9 190.7L343.2 189.4L344.3 186.6L345.6 185.0L347.0 182.3L348.2 180.7L349.2 180.0L350.4 181.7L351.7 180.8L352.7 180.1L354.0 181.2L355.2 214.0M357.6 214.0L358.2 173.4L359.3 170.2L360.7 167.4L361.6 164.3L363.2 161.0L363.9 157.5L365.1 154.9L366.8 153.9L367.8 152.3L369.2 150.3L370.2 149.0L371.4 147.6L372.6 145.7L373.8 145.7L375.1 144.0L376.0 143.6L377.4 145.8L378.6 144.1L379.9 145.1L380.9 143.5L382.0 144.0L383.2 144.0L384.5 145.4L385.4 144.9L386.6 144.5L388.2 146.5L389.5 147.6L390.2 149.1L391.7 152.3L393.1 152.8L394.0 153.6L395.3 155.7L396.2 157.0L397.4 160.7L398.6 163.3L399.8 165.5L401.0 165.2L402.5 166.4L403.7 166.8L404.6 169.0L406.1 169.7L407.3 168.1L408.4 170.4L409.5 171.5L410.6 172.1L412.1 169.8L412.9 171.9L414.5 169.9L415.4 171.4L416.6 171.5L417.9 168.9L419.0 170.0L420.3 169.8L421.3 169.7L422.6 168.8L424.0 167.4L425.0 167.6L426.5 166.8L427.5 164.8L428.4 166.4L430.0 165.7L431.0 164.8L432.5 164.9L433.5 162.9L434.6 164.0L435.8 163.6L437.1 164.6L438.4 163.3L439.2 163.6L440.6 165.2L442.0 166.8L443.0 166.5L443.4 214.0M448.6 214.0L448.8 176.0L449.8 178.7L451.4 180.6L452.4 178.6L453.8 179.7L454.9 179.6L455.9 176.8L457.2 177.4L458.3 175.8L459.8 172.9L460.9 172.4L462.0 169.2L463.1 168.9L464.6 166.2L465.4 165.1L467.0 161.3L468.1 161.0L469.4 157.5L470.4 155.2L471.5 151.7L472.7 151.6L474.0 149.8L475.2 149.1L476.3 147.3L477.9 147.8L478.7 149.1L480.2 148.4L481.3 149.6L482.5 149.3L483.5 152.5L485.1 151.7L486.1 151.9L487.4 153.2L488.7 154.8L489.9 155.1L490.8 152.2L492.0 152.3L493.1 152.2L494.5 154.7L495.7 155.2L497.1 154.7L498.2 157.5L499.1 161.1L500.4 162.4L501.8 165.9L503.0 165.7L504.1 166.0L505.6 169.3L506.4 167.4L507.6 168.7L509.1 170.7L510.3 168.7L511.5 170.9L512.6 172.2L513.5 170.6L515.1 173.5L516.3 172.5L517.4 175.1L518.4 175.5L519.6 176.1L521.0 177.2L522.0 178.1L523.5 178.8L524.7 180.5L525.6 183.8L526.8 185.0L528.4 187.7L529.2 190.0L530.4 197.0L531.8 201.8L534.0 202.5" fill="none" stroke="#000" stroke-width="1.00" stroke-linejoin="round"/><g fill="none" stroke="#000" stroke-width="0.80"><circle cx="334.2" cy="172.8" r="2.00"/><circle cx="336.0" cy="199.0" r="2.00"/><circle cx="337.2" cy="197.6" r="2.00"/><circle cx="338.6" cy="195.0" r="2.00"/><circle cx="339.7" cy="195.4" r="2.00"/><circle cx="340.7" cy="193.9" r="2.00"/><circle cx="341.9" cy="190.7" r="2.00"/><circle cx="343.2" cy="189.4" r="2.00"/><circle cx="344.3" cy="186.6" r="2.00"/><circle cx="345.6" cy="185.0" r="2.00"/><circle cx="347.0" cy="182.3" r="2.00"/><circle cx="348.2" cy="180.7" r="2.00"/><circle cx="349.2" cy="180.0" r="2.00"/><circle cx="350.4" cy="181.7" r="2.00"/><circle cx="351.7" cy="180.8" r="2.00"/><circle cx="352.7" cy="180.1" r="2.00"/><circle cx="354.0" cy="181.2" r="2.00"/><circle cx="358.2" cy="173.4" r="2.00"/><circle cx="359.3" cy="170.2" r="2.00"/><circle cx="360.7" cy="167.4" r="2.00"/><circle cx="361.6" cy="164.3" r="2.00"/><circle cx="363.2" cy="161.0" r="2.00"/><circle cx="363.9" cy="157.5" r="2.00"/><circle cx="365.1" cy="154.9" r="2.00"/><circle cx="366.8" cy="153.9" r="2.00"/><circle cx="367.8" cy="152.3" r="2.00"/><circle cx="369.2" cy="150.3" r="2.00"/><circle cx="370.2" cy="149.0" r="2.00"/><circle cx="371.4" cy="147.6" r="2.00"/><circle cx="372.6" cy="145.7" r="2.00"/><circle cx="373.8" cy="145.7" r="2.00"/><circle cx="375.1" cy="144.0" r="2.00"/><circle cx="376.0" cy="143.6" r="2.00"/><circle cx="377.4" cy="145.8" r="2.00"/><circle cx="378.6" cy="144.1" r="2.00"/><circle cx="379.9" cy="145.1" r="2.00"/><circle cx="380.9" cy="143.5" r="2.00"/><circle cx="382.0" cy="144.0" r="2.00"/><circle cx="383.2" cy="144.0" r="2.00"/><circle cx="384.5" cy="145.4" r="2.00"/><circle cx="385.4" cy="144.9" r="2.00"/><circle cx="386.6" cy="144.5" r="2.00"/><circle cx="388.2" cy="146.5" r="2.00"/><circle cx="389.5" cy="147.6" r="2.00"/><circle cx="390.2" cy="149.1" r="2.00"/><circle cx="391.7" cy="152.3" r="2.00"/><circle cx="393.1" cy="152.8" r="2.00"/><circle cx="394.0" cy="153.6" r="2.00"/><circle cx="395.3" cy="155.7" r="2.00"/><circle cx="396.2" cy="157.0" r="2.00"/><circle cx="397.4" cy="160.7" r="2.00"/><circle cx="398.6" cy="163.3" r="2.00"/><circle cx="399.8" cy="165.5" r="2.00"/><circle cx="401.0" cy="165.2" r="2.00"/><circle cx="402.5" cy="166.4" r="2.00"/><circle cx="403.7" cy="166.8" r="2.00"/><circle cx="404.6" cy="169.0" r="2.00"/><circle cx="406.1" cy="169.7" r="2.00"/><circle cx="407.3" cy="168.1" r="2.00"/><circle cx="408.4" cy="170.4" r="2.00"/><circle cx="409.5" cy="171.5" r="2.00"/><circle cx="410.6" cy="172.1" r="2.00"/><circle cx="412.1" cy="169.8" r="2.00"/><circle cx="412.9" cy="171.9" r="2.00"/><circle cx="414.5" cy="169.9" r="2.00"/><circle cx="415.4" cy="171.4" r="2.00"/><circle cx="416.6" cy="171.5" r="2.00"/><circle cx="417.9" cy="168.9" r="2.00"/><circle cx="419.0" cy="170.0" r="2.00"/><circle cx="420.3" cy="169.8" r="2.00"/><circle cx="421.3" cy="169.7" r="2.00"/><circle cx="422.6" cy="168.8" r="2.00"/><circle cx="424.0" cy="167.4" r="2.00"/><circle cx="425.0" cy="167.6" r="2.00"/><circle cx="426.5" cy="166.8" r="2.00"/><circle cx="427.5" cy="164.8" r="2.00"/><circle cx="428.4" cy="166.4" r="2.00"/><circle cx="430.0" cy="165.7" r="2.00"/><circle cx="431.0" cy="164.8" r="2.00"/><circle cx="432.5" cy="164.9" r="2.00"/><circle cx="433.5" cy="162.9" r="2.00"/><circle cx="434.6" cy="164.0" r="2.00"/><circle cx="435.8" cy="163.6" r="2.00"/><circle cx="437.1" cy="164.6" r="2.00"/><circle cx="438.4" cy="163.3" r="2.00"/><circle cx="439.2" cy="163.6" r="2.00"/><circle cx="440.6" cy="165.2" r="2.00"/><circle cx="442.0" cy="166.8" r="2.00"/><circle cx="443.0" cy="166.5" r="2.00"/><circle cx="448.8" cy="176.0" r="2.00"/><circle cx="449.8" cy="178.7" r="2.00"/><circle cx="451.4" cy="180.6" r="2.00"/><circle cx="452.4" cy="178.6" r="2.00"/><circle cx="453.8" cy="179.7" r="2.00"/><circle cx="454.9" cy="179.6" r="2.00"/><circle cx="455.9" cy="176.8" r="2.00"/><circle cx="457.2" cy="177.4" r="2.00"/><circle cx="458.3" cy="175.8" r="2.00"/><circle cx="459.8" cy="172.9" r="2.00"/><circle cx="460.9" cy="172.4" r="2.00"/><circle cx="462.0" cy="169.2" r="2.00"/><circle cx="463.1" cy="168.9" r="2.00"/><circle cx="464.6" cy="166.2" r="2.00"/><circle cx="465.4" cy="165.1" r="2.00"/><circle cx="467.0" cy="161.3" r="2.00"/><circle cx="468.1" cy="161.0" r="2.00"/><circle cx="469.4" cy="157.5" r="2.00"/><circle cx="470.4" cy="155.2" r="2.00"/><circle cx="471.5" cy="151.7" r="2.00"/><circle cx="472.7" cy="151.6" r="2.00"/><circle cx="474.0" cy="149.8" r="2.00"/><circle cx="475.2" cy="149.1" r="2.00"/><circle cx="476.3" cy="147.3" r="2.00"/><circle cx="477.9" cy="147.8" r="2.00"/><circle cx="478.7" cy="149.1" r="2.00"/><circle cx="480.2" cy="148.4" r="2.00"/><circle cx="481.3" cy="149.6" r="2.00"/><circle cx="482.5" cy="149.3" r="2.00"/><circle cx="483.5" cy="152.5" r="2.00"/><circle cx="485.1" cy="151.7" r="2.00"/><circle cx="486.1" cy="151.9" r="2.00"/><circle cx="487.4" cy="153.2" r="2.00"/><circle cx="488.7" cy="154.8" r="2.00"/><circle cx="489.9" cy="155.1" r="2.00"/><circle cx="490.8" cy="152.2" r="2.00"/><circle cx="492.0" cy="152.3" r="2.00"/><circle cx="493.1" cy="152.2" r="2.00"/><circle cx="494.5" cy="154.7" r="2.00"/><circle cx="495.7" cy="155.2" r="2.00"/><circle cx="497.1" cy="154.7" r="2.00"/><circle cx="498.2" cy="157.5" r="2.00"/><circle cx="499.1" cy="161.1" r="2.00"/><circle cx="500.4" cy="162.4" r="2.00"/><circle cx="501.8" cy="165.9" r="2.00"/><circle cx="503.0" cy="165.7" r="2.00"/><circle cx="504.1" cy="166.0" r="2.00"/><circle cx="505.6" cy="169.3" r="2.00"/><circle cx="506.4" cy="167.4" r="2.00"/><circle cx="507.6" cy="168.7" r="2.00"/><circle cx="509.1" cy="170.7" r="2.00"/><circle cx="510.3" cy="168.7" r="2.00"/><circle cx="511.5" cy="170.9" r="2.00"/><circle cx="512.6" cy="172.2" r="2.00"/><circle cx="513.5" cy="170.6" r="2.00"/><circle cx="515.1" cy="173.5" r="2.00"/><circle cx="516.3" cy="172.5" r="2.00"/><circle cx="517.4" cy="175.1" r="2.00"/><circle cx="518.4" cy="175.5" r="2.00"/><circle cx="519.6" cy="176.1" r="2.00"/><circle cx="521.0" cy="177.2" r="2.00"/><circle cx="522.0" cy="178.1" r="2.00"/><circle cx="523.5" cy="178.8" r="2.00"/><circle cx="524.7" cy="180.5" r="2.00"/><circle cx="525.6" cy="183.8" r="2.00"/><circle cx="526.8" cy="185.0" r="2.00"/><circle cx="528.4" cy="187.7" r="2.00"/><circle cx="529.2" cy="190.0" r="2.00"/><circle cx="530.4" cy="197.0" r="2.00"/><circle cx="531.8" cy="201.8" r="2.00"/><circle cx="534.0" cy="202.5" r="2.00"/></g><path d="M334.2 181.8L335.0 214.0L336.0 203.6L337.3 202.9L338.3 201.0L339.7 200.2L340.7 198.2L341.7 196.9L343.1 197.1L344.0 197.0L345.2 194.7L346.3 193.3L347.8 192.4L348.7 191.9L349.9 192.0L351.0 191.8L352.1 191.6L353.5 190.5L354.5 215.0M357.5 215.0L358.3 186.0L359.6 182.4L360.7 180.7L361.8 179.1L363.0 180.1L364.5 178.5L365.3 175.1L366.8 172.7L368.0 172.3L369.3 170.7L370.4 170.8L371.2 169.2L372.8 169.9L373.7 168.9L375.2 168.0L376.2 167.5L377.2 169.0L378.7 167.2L379.6 166.8L381.0 167.9L382.0 167.0L383.4 168.4L384.7 168.2L385.6 166.8L387.0 168.3L388.2 168.1L389.5 169.8L390.7 172.6L391.7 171.5L393.1 174.4L394.3 175.5L395.1 178.7L396.4 178.2L397.6 180.9L398.6 181.5L400.0 182.1L401.1 183.3L402.6 184.2L403.5 183.9L404.8 184.2L405.8 184.7L407.4 183.9L408.4 184.3L409.6 183.1L411.0 183.8L411.8 183.6L413.1 185.7L414.1 183.7L415.7 183.7L416.5 184.6L418.0 184.2L419.2 182.7L420.5 184.0L421.3 181.9L422.7 182.6L423.8 181.1L425.1 180.9L426.3 182.8L427.3 181.8L428.8 180.4L430.0 182.2L431.0 180.4L432.4 180.3L433.4 181.4L434.8 180.0L435.7 180.4L437.0 182.6L438.4 182.9L439.6 183.3L440.4 182.9L442.0 184.4L443.0 183.5L443.8 215.0M449.0 215.0L449.2 190.0L450.3 190.1L451.7 189.5L452.8 188.1L454.0 188.8L455.0 187.3L456.6 188.4L457.8 187.1L459.0 186.8L460.2 183.5L461.3 183.2L462.5 182.2L463.6 182.8L464.9 179.7L466.0 179.0L467.4 177.4L468.3 177.2L469.4 175.8L471.1 174.4L471.9 173.1L473.2 171.4L474.2 170.5L475.5 170.4L476.7 169.8L477.8 170.8L479.4 171.2L480.5 171.5L481.5 172.0L482.8 171.8L484.1 171.9L485.1 171.3L486.3 172.0L487.6 172.2L488.6 171.5L490.2 171.1L491.3 171.7L492.3 172.9L493.5 172.6L494.7 171.2L496.2 172.9L497.0 173.4L498.4 175.6L499.5 175.4L501.1 178.0L501.9 178.0L503.2 180.0L504.5 181.5L505.8 181.3L507.0 182.4L508.2 182.2L509.4 183.3L510.7 182.0L511.9 181.8L513.0 183.6L514.1 184.8L515.3 184.1L516.6 186.1L517.7 185.5L518.9 186.3L520.2 186.5L521.2 187.9L522.4 188.2L523.8 190.7L524.9 190.6L525.9 191.2L527.1 193.2L528.5 193.7L529.9 196.4L531.1 200.6L532.3 201.8L533.3 206.7L534.5 208.0" fill="none" stroke="#ff00ff" stroke-width="1.00" stroke-linejoin="round"/><g fill="none" stroke="#ff00ff" stroke-width="0.80"><circle cx="334.2" cy="181.8" r="2.00"/><circle cx="336.0" cy="203.6" r="2.00"/><circle cx="337.3" cy="202.9" r="2.00"/><circle cx="338.3" cy="201.0" r="2.00"/><circle cx="339.7" cy="200.2" r="2.00"/><circle cx="340.7" cy="198.2" r="2.00"/><circle cx="341.7" cy="196.9" r="2.00"/><circle cx="343.1" cy="197.1" r="2.00"/><circle cx="344.0" cy="197.0" r="2.00"/><circle cx="345.2" cy="194.7" r="2.00"/><circle cx="346.3" cy="193.3" r="2.00"/><circle cx="347.8" cy="192.4" r="2.00"/><circle cx="348.7" cy="191.9" r="2.00"/><circle cx="349.9" cy="192.0" r="2.00"/><circle cx="351.0" cy="191.8" r="2.00"/><circle cx="352.1" cy="191.6" r="2.00"/><circle cx="353.5" cy="190.5" r="2.00"/><circle cx="358.3" cy="186.0" r="2.00"/><circle cx="359.6" cy="182.4" r="2.00"/><circle cx="360.7" cy="180.7" r="2.00"/><circle cx="361.8" cy="179.1" r="2.00"/><circle cx="363.0" cy="180.1" r="2.00"/><circle cx="364.5" cy="178.5" r="2.00"/><circle cx="365.3" cy="175.1" r="2.00"/><circle cx="366.8" cy="172.7" r="2.00"/><circle cx="368.0" cy="172.3" r="2.00"/><circle cx="369.3" cy="170.7" r="2.00"/><circle cx="370.4" cy="170.8" r="2.00"/><circle cx="371.2" cy="169.2" r="2.00"/><circle cx="372.8" cy="169.9" r="2.00"/><circle cx="373.7" cy="168.9" r="2.00"/><circle cx="375.2" cy="168.0" r="2.00"/><circle cx="376.2" cy="167.5" r="2.00"/><circle cx="377.2" cy="169.0" r="2.00"/><circle cx="378.7" cy="167.2" r="2.00"/><circle cx="379.6" cy="166.8" r="2.00"/><circle cx="381.0" cy="167.9" r="2.00"/><circle cx="382.0" cy="167.0" r="2.00"/><circle cx="383.4" cy="168.4" r="2.00"/><circle cx="384.7" cy="168.2" r="2.00"/><circle cx="385.6" cy="166.8" r="2.00"/><circle cx="387.0" cy="168.3" r="2.00"/><circle cx="388.2" cy="168.1" r="2.00"/><circle cx="389.5" cy="169.8" r="2.00"/><circle cx="390.7" cy="172.6" r="2.00"/><circle cx="391.7" cy="171.5" r="2.00"/><circle cx="393.1" cy="174.4" r="2.00"/><circle cx="394.3" cy="175.5" r="2.00"/><circle cx="395.1" cy="178.7" r="2.00"/><circle cx="396.4" cy="178.2" r="2.00"/><circle cx="397.6" cy="180.9" r="2.00"/><circle cx="398.6" cy="181.5" r="2.00"/><circle cx="400.0" cy="182.1" r="2.00"/><circle cx="401.1" cy="183.3" r="2.00"/><circle cx="402.6" cy="184.2" r="2.00"/><circle cx="403.5" cy="183.9" r="2.00"/><circle cx="404.8" cy="184.2" r="2.00"/><circle cx="405.8" cy="184.7" r="2.00"/><circle cx="407.4" cy="183.9" r="2.00"/><circle cx="408.4" cy="184.3" r="2.00"/><circle cx="409.6" cy="183.1" r="2.00"/><circle cx="411.0" cy="183.8" r="2.00"/><circle cx="411.8" cy="183.6" r="2.00"/><circle cx="413.1" cy="185.7" r="2.00"/><circle cx="414.1" cy="183.7" r="2.00"/><circle cx="415.7" cy="183.7" r="2.00"/><circle cx="416.5" cy="184.6" r="2.00"/><circle cx="418.0" cy="184.2" r="2.00"/><circle cx="419.2" cy="182.7" r="2.00"/><circle cx="420.5" cy="184.0" r="2.00"/><circle cx="421.3" cy="181.9" r="2.00"/><circle cx="422.7" cy="182.6" r="2.00"/><circle cx="423.8" cy="181.1" r="2.00"/><circle cx="425.1" cy="180.9" r="2.00"/><circle cx="426.3" cy="182.8" r="2.00"/><circle cx="427.3" cy="181.8" r="2.00"/><circle cx="428.8" cy="180.4" r="2.00"/><circle cx="430.0" cy="182.2" r="2.00"/><circle cx="431.0" cy="180.4" r="2.00"/><circle cx="432.4" cy="180.3" r="2.00"/><circle cx="433.4" cy="181.4" r="2.00"/><circle cx="434.8" cy="180.0" r="2.00"/><circle cx="435.7" cy="180.4" r="2.00"/><circle cx="437.0" cy="182.6" r="2.00"/><circle cx="438.4" cy="182.9" r="2.00"/><circle cx="439.6" cy="183.3" r="2.00"/><circle cx="440.4" cy="182.9" r="2.00"/><circle cx="442.0" cy="184.4" r="2.00"/><circle cx="443.0" cy="183.5" r="2.00"/><circle cx="449.2" cy="190.0" r="2.00"/><circle cx="450.3" cy="190.1" r="2.00"/><circle cx="451.7" cy="189.5" r="2.00"/><circle cx="452.8" cy="188.1" r="2.00"/><circle cx="454.0" cy="188.8" r="2.00"/><circle cx="455.0" cy="187.3" r="2.00"/><circle cx="456.6" cy="188.4" r="2.00"/><circle cx="457.8" cy="187.1" r="2.00"/><circle cx="459.0" cy="186.8" r="2.00"/><circle cx="460.2" cy="183.5" r="2.00"/><circle cx="461.3" cy="183.2" r="2.00"/><circle cx="462.5" cy="182.2" r="2.00"/><circle cx="463.6" cy="182.8" r="2.00"/><circle cx="464.9" cy="179.7" r="2.00"/><circle cx="466.0" cy="179.0" r="2.00"/><circle cx="467.4" cy="177.4" r="2.00"/><circle cx="468.3" cy="177.2" r="2.00"/><circle cx="469.4" cy="175.8" r="2.00"/><circle cx="471.1" cy="174.4" r="2.00"/><circle cx="471.9" cy="173.1" r="2.00"/><circle cx="473.2" cy="171.4" r="2.00"/><circle cx="474.2" cy="170.5" r="2.00"/><circle cx="475.5" cy="170.4" r="2.00"/><circle cx="476.7" cy="169.8" r="2.00"/><circle cx="477.8" cy="170.8" r="2.00"/><circle cx="479.4" cy="171.2" r="2.00"/><circle cx="480.5" cy="171.5" r="2.00"/><circle cx="481.5" cy="172.0" r="2.00"/><circle cx="482.8" cy="171.8" r="2.00"/><circle cx="484.1" cy="171.9" r="2.00"/><circle cx="485.1" cy="171.3" r="2.00"/><circle cx="486.3" cy="172.0" r="2.00"/><circle cx="487.6" cy="172.2" r="2.00"/><circle cx="488.6" cy="171.5" r="2.00"/><circle cx="490.2" cy="171.1" r="2.00"/><circle cx="491.3" cy="171.7" r="2.00"/><circle cx="492.3" cy="172.9" r="2.00"/><circle cx="493.5" cy="172.6" r="2.00"/><circle cx="494.7" cy="171.2" r="2.00"/><circle cx="496.2" cy="172.9" r="2.00"/><circle cx="497.0" cy="173.4" r="2.00"/><circle cx="498.4" cy="175.6" r="2.00"/><circle cx="499.5" cy="175.4" r="2.00"/><circle cx="501.1" cy="178.0" r="2.00"/><circle cx="501.9" cy="178.0" r="2.00"/><circle cx="503.2" cy="180.0" r="2.00"/><circle cx="504.5" cy="181.5" r="2.00"/><circle cx="505.8" cy="181.3" r="2.00"/><circle cx="507.0" cy="182.4" r="2.00"/><circle cx="508.2" cy="182.2" r="2.00"/><circle cx="509.4" cy="183.3" r="2.00"/><circle cx="510.7" cy="182.0" r="2.00"/><circle cx="511.9" cy="181.8" r="2.00"/><circle cx="513.0" cy="183.6" r="2.00"/><circle cx="514.1" cy="184.8" r="2.00"/><circle cx="515.3" cy="184.1" r="2.00"/><circle cx="516.6" cy="186.1" r="2.00"/><circle cx="517.7" cy="185.5" r="2.00"/><circle cx="518.9" cy="186.3" r="2.00"/><circle cx="520.2" cy="186.5" r="2.00"/><circle cx="521.2" cy="187.9" r="2.00"/><circle cx="522.4" cy="188.2" r="2.00"/><circle cx="523.8" cy="190.7" r="2.00"/><circle cx="524.9" cy="190.6" r="2.00"/><circle cx="525.9" cy="191.2" r="2.00"/><circle cx="527.1" cy="193.2" r="2.00"/><circle cx="528.5" cy="193.7" r="2.00"/><circle cx="529.9" cy="196.4" r="2.00"/><circle cx="531.1" cy="200.6" r="2.00"/><circle cx="532.3" cy="201.8" r="2.00"/><circle cx="533.3" cy="206.7" r="2.00"/><circle cx="534.5" cy="208.0" r="2.00"/></g><path d="M333.2 196.4L334.6 214.0L336.0 213.5L337.0 211.9L338.4 212.7L339.8 213.0L340.8 213.1L342.0 211.3L343.3 210.4L344.3 210.5L345.5 211.0L346.9 209.4L347.8 208.6L349.2 208.7L350.4 209.1L351.8 207.6L352.8 207.2L353.4 216.0M357.0 216.0L357.5 210.0L358.7 208.8L360.1 206.5L361.1 206.8L362.1 204.5L363.7 204.9L364.7 202.2L366.1 203.2L367.2 203.4L368.5 201.3L369.3 200.6L370.7 200.8L371.7 199.6L373.1 200.6L374.2 201.6L375.5 198.9L376.6 200.9L377.8 200.5L378.8 199.5L380.4 200.2L381.5 199.2L382.6 200.1L383.7 200.4L385.1 201.7L386.3 200.3L387.2 200.0L388.8 200.1L389.6 200.6L391.0 203.2L392.3 203.9L393.2 202.4L394.7 204.1L395.9 204.7L396.8 204.9L398.0 207.2L399.4 206.1L400.6 206.5L401.6 208.1L403.0 208.4L404.2 207.6L405.3 206.1L406.8 208.5L407.7 208.7L409.1 207.1L410.2 209.1L411.4 209.2L412.4 207.7L413.9 207.4L414.9 209.1L416.2 208.7L417.2 206.7L418.5 206.6L420.0 206.7L421.0 206.0L422.2 206.7L423.3 205.7L424.4 207.7L425.7 206.0L426.8 206.0L428.0 205.2L429.4 206.0L430.4 207.0L431.5 205.8L433.1 205.4L434.1 207.3L435.5 205.4L436.4 207.0L437.6 207.7L438.8 207.7L440.1 205.6L441.3 205.4L442.5 206.5L442.8 216.0M448.4 216.0L449.0 210.0L450.3 208.9L451.6 209.4L452.5 208.0L453.9 207.5L455.2 206.8L456.2 207.5L457.3 207.5L458.6 206.6L459.9 205.1L461.0 204.0L462.1 205.8L463.4 204.9L464.5 204.2L465.8 203.7L467.0 202.1L468.2 202.2L469.3 203.2L470.6 202.0L472.1 202.7L473.3 202.6L474.1 200.6L475.3 201.4L476.8 200.2L477.9 200.9L479.2 199.5L480.5 199.6L481.6 199.1L482.5 201.2L484.0 200.6L484.9 198.7L486.2 199.3L487.4 199.9L488.5 199.8L490.0 199.6L491.3 201.0L492.5 200.4L493.5 201.9L494.7 200.3L496.1 202.8L497.1 201.1L498.6 203.0L499.4 202.4L500.6 204.3L501.8 205.1L503.3 203.2L504.5 204.3L505.7 205.8L506.7 204.0L508.2 205.2L509.4 206.2L510.5 206.9L511.7 206.1L512.6 207.0L514.0 206.7L515.4 205.8L516.6 205.8L517.7 208.2L518.7 207.7L520.3 208.2L521.3 207.4L522.2 208.0L523.6 207.8L524.8 207.9L526.2 209.7L527.1 208.7L528.5 209.7L529.9 209.9L530.8 211.8L531.9 211.4L533.2 213.0L534.5 213.0" fill="none" stroke="#006a00" stroke-width="1.00" stroke-linejoin="round"/><g fill="none" stroke="#006a00" stroke-width="0.80"><circle cx="333.2" cy="196.4" r="2.00"/><circle cx="336.0" cy="213.5" r="2.00"/><circle cx="337.0" cy="211.9" r="2.00"/><circle cx="338.4" cy="212.7" r="2.00"/><circle cx="339.8" cy="213.0" r="2.00"/><circle cx="340.8" cy="213.1" r="2.00"/><circle cx="342.0" cy="211.3" r="2.00"/><circle cx="343.3" cy="210.4" r="2.00"/><circle cx="344.3" cy="210.5" r="2.00"/><circle cx="345.5" cy="211.0" r="2.00"/><circle cx="346.9" cy="209.4" r="2.00"/><circle cx="347.8" cy="208.6" r="2.00"/><circle cx="349.2" cy="208.7" r="2.00"/><circle cx="350.4" cy="209.1" r="2.00"/><circle cx="351.8" cy="207.6" r="2.00"/><circle cx="352.8" cy="207.2" r="2.00"/><circle cx="357.5" cy="210.0" r="2.00"/><circle cx="358.7" cy="208.8" r="2.00"/><circle cx="360.1" cy="206.5" r="2.00"/><circle cx="361.1" cy="206.8" r="2.00"/><circle cx="362.1" cy="204.5" r="2.00"/><circle cx="363.7" cy="204.9" r="2.00"/><circle cx="364.7" cy="202.2" r="2.00"/><circle cx="366.1" cy="203.2" r="2.00"/><circle cx="367.2" cy="203.4" r="2.00"/><circle cx="368.5" cy="201.3" r="2.00"/><circle cx="369.3" cy="200.6" r="2.00"/><circle cx="370.7" cy="200.8" r="2.00"/><circle cx="371.7" cy="199.6" r="2.00"/><circle cx="373.1" cy="200.6" r="2.00"/><circle cx="374.2" cy="201.6" r="2.00"/><circle cx="375.5" cy="198.9" r="2.00"/><circle cx="376.6" cy="200.9" r="2.00"/><circle cx="377.8" cy="200.5" r="2.00"/><circle cx="378.8" cy="199.5" r="2.00"/><circle cx="380.4" cy="200.2" r="2.00"/><circle cx="381.5" cy="199.2" r="2.00"/><circle cx="382.6" cy="200.1" r="2.00"/><circle cx="383.7" cy="200.4" r="2.00"/><circle cx="385.1" cy="201.7" r="2.00"/><circle cx="386.3" cy="200.3" r="2.00"/><circle cx="387.2" cy="200.0" r="2.00"/><circle cx="388.8" cy="200.1" r="2.00"/><circle cx="389.6" cy="200.6" r="2.00"/><circle cx="391.0" cy="203.2" r="2.00"/><circle cx="392.3" cy="203.9" r="2.00"/><circle cx="393.2" cy="202.4" r="2.00"/><circle cx="394.7" cy="204.1" r="2.00"/><circle cx="395.9" cy="204.7" r="2.00"/><circle cx="396.8" cy="204.9" r="2.00"/><circle cx="398.0" cy="207.2" r="2.00"/><circle cx="399.4" cy="206.1" r="2.00"/><circle cx="400.6" cy="206.5" r="2.00"/><circle cx="401.6" cy="208.1" r="2.00"/><circle cx="403.0" cy="208.4" r="2.00"/><circle cx="404.2" cy="207.6" r="2.00"/><circle cx="405.3" cy="206.1" r="2.00"/><circle cx="406.8" cy="208.5" r="2.00"/><circle cx="407.7" cy="208.7" r="2.00"/><circle cx="409.1" cy="207.1" r="2.00"/><circle cx="410.2" cy="209.1" r="2.00"/><circle cx="411.4" cy="209.2" r="2.00"/><circle cx="412.4" cy="207.7" r="2.00"/><circle cx="413.9" cy="207.4" r="2.00"/><circle cx="414.9" cy="209.1" r="2.00"/><circle cx="416.2" cy="208.7" r="2.00"/><circle cx="417.2" cy="206.7" r="2.00"/><circle cx="418.5" cy="206.6" r="2.00"/><circle cx="420.0" cy="206.7" r="2.00"/><circle cx="421.0" cy="206.0" r="2.00"/><circle cx="422.2" cy="206.7" r="2.00"/><circle cx="423.3" cy="205.7" r="2.00"/><circle cx="424.4" cy="207.7" r="2.00"/><circle cx="425.7" cy="206.0" r="2.00"/><circle cx="426.8" cy="206.0" r="2.00"/><circle cx="428.0" cy="205.2" r="2.00"/><circle cx="429.4" cy="206.0" r="2.00"/><circle cx="430.4" cy="207.0" r="2.00"/><circle cx="431.5" cy="205.8" r="2.00"/><circle cx="433.1" cy="205.4" r="2.00"/><circle cx="434.1" cy="207.3" r="2.00"/><circle cx="435.5" cy="205.4" r="2.00"/><circle cx="436.4" cy="207.0" r="2.00"/><circle cx="437.6" cy="207.7" r="2.00"/><circle cx="438.8" cy="207.7" r="2.00"/><circle cx="440.1" cy="205.6" r="2.00"/><circle cx="441.3" cy="205.4" r="2.00"/><circle cx="442.5" cy="206.5" r="2.00"/><circle cx="449.0" cy="210.0" r="2.00"/><circle cx="450.3" cy="208.9" r="2.00"/><circle cx="451.6" cy="209.4" r="2.00"/><circle cx="452.5" cy="208.0" r="2.00"/><circle cx="453.9" cy="207.5" r="2.00"/><circle cx="455.2" cy="206.8" r="2.00"/><circle cx="456.2" cy="207.5" r="2.00"/><circle cx="457.3" cy="207.5" r="2.00"/><circle cx="458.6" cy="206.6" r="2.00"/><circle cx="459.9" cy="205.1" r="2.00"/><circle cx="461.0" cy="204.0" r="2.00"/><circle cx="462.1" cy="205.8" r="2.00"/><circle cx="463.4" cy="204.9" r="2.00"/><circle cx="464.5" cy="204.2" r="2.00"/><circle cx="465.8" cy="203.7" r="2.00"/><circle cx="467.0" cy="202.1" r="2.00"/><circle cx="468.2" cy="202.2" r="2.00"/><circle cx="469.3" cy="203.2" r="2.00"/><circle cx="470.6" cy="202.0" r="2.00"/><circle cx="472.1" cy="202.7" r="2.00"/><circle cx="473.3" cy="202.6" r="2.00"/><circle cx="474.1" cy="200.6" r="2.00"/><circle cx="475.3" cy="201.4" r="2.00"/><circle cx="476.8" cy="200.2" r="2.00"/><circle cx="477.9" cy="200.9" r="2.00"/><circle cx="479.2" cy="199.5" r="2.00"/><circle cx="480.5" cy="199.6" r="2.00"/><circle cx="481.6" cy="199.1" r="2.00"/><circle cx="482.5" cy="201.2" r="2.00"/><circle cx="484.0" cy="200.6" r="2.00"/><circle cx="484.9" cy="198.7" r="2.00"/><circle cx="486.2" cy="199.3" r="2.00"/><circle cx="487.4" cy="199.9" r="2.00"/><circle cx="488.5" cy="199.8" r="2.00"/><circle cx="490.0" cy="199.6" r="2.00"/><circle cx="491.3" cy="201.0" r="2.00"/><circle cx="492.5" cy="200.4" r="2.00"/><circle cx="493.5" cy="201.9" r="2.00"/><circle cx="494.7" cy="200.3" r="2.00"/><circle cx="496.1" cy="202.8" r="2.00"/><circle cx="497.1" cy="201.1" r="2.00"/><circle cx="498.6" cy="203.0" r="2.00"/><circle cx="499.4" cy="202.4" r="2.00"/><circle cx="500.6" cy="204.3" r="2.00"/><circle cx="501.8" cy="205.1" r="2.00"/><circle cx="503.3" cy="203.2" r="2.00"/><circle cx="504.5" cy="204.3" r="2.00"/><circle cx="505.7" cy="205.8" r="2.00"/><circle cx="506.7" cy="204.0" r="2.00"/><circle cx="508.2" cy="205.2" r="2.00"/><circle cx="509.4" cy="206.2" r="2.00"/><circle cx="510.5" cy="206.9" r="2.00"/><circle cx="511.7" cy="206.1" r="2.00"/><circle cx="512.6" cy="207.0" r="2.00"/><circle cx="514.0" cy="206.7" r="2.00"/><circle cx="515.4" cy="205.8" r="2.00"/><circle cx="516.6" cy="205.8" r="2.00"/><circle cx="517.7" cy="208.2" r="2.00"/><circle cx="518.7" cy="207.7" r="2.00"/><circle cx="520.3" cy="208.2" r="2.00"/><circle cx="521.3" cy="207.4" r="2.00"/><circle cx="522.2" cy="208.0" r="2.00"/><circle cx="523.6" cy="207.8" r="2.00"/><circle cx="524.8" cy="207.9" r="2.00"/><circle cx="526.2" cy="209.7" r="2.00"/><circle cx="527.1" cy="208.7" r="2.00"/><circle cx="528.5" cy="209.7" r="2.00"/><circle cx="529.9" cy="209.9" r="2.00"/><circle cx="530.8" cy="211.8" r="2.00"/><circle cx="531.9" cy="211.4" r="2.00"/><circle cx="533.2" cy="213.0" r="2.00"/><circle cx="534.5" cy="213.0" r="2.00"/></g><path d="M333.5 192.5L334.6 214.0L336.0 213.0L338.0 213.4L339.8 213.0L342.1 212.4L344.2 213.1L345.8 211.7L348.0 211.5L349.8 211.7L351.9 212.7L354.0 211.3L356.0 212.1L358.0 211.4L359.8 211.0L362.3 212.6L363.9 212.4L366.3 211.8L367.9 211.5L370.1 210.6L372.1 210.0L374.3 211.1L376.2 211.4L378.2 209.4L380.0 209.3L381.9 211.0L384.3 209.9L386.0 211.1L388.3 212.2L390.0 212.2L392.3 212.5L394.1 211.6L396.3 212.1L398.1 212.7L400.1 213.4L402.0 211.5L404.2 213.0L406.3 213.2L408.4 213.8L410.2 212.8L412.0 212.4L414.2 211.9L416.3 212.1L418.2 214.1L420.0 211.9L422.2 212.3L424.3 211.9L426.4 214.0L428.4 213.0L430.1 213.6L432.2 213.0L434.2 213.1L436.3 214.1L438.5 212.5L440.2 213.2L442.3 213.0L444.1 212.4L446.2 213.3L448.5 214.5L450.5 214.6L452.5 213.8L454.5 212.4L456.4 213.8L458.2 213.7L460.5 213.5L462.4 213.0L464.2 214.4L466.1 212.8L468.4 213.4L470.1 213.9L472.3 213.7L474.3 213.6L476.4 213.3L478.2 212.7L480.6 213.6L482.2 214.4L484.3 212.6L486.4 213.0L488.4 213.8L490.3 213.8L492.2 213.7L494.4 212.7L496.4 212.7L498.4 214.7L500.4 214.4L502.5 212.9L504.7 214.4L506.2 214.7L508.4 213.2L510.7 214.2L512.6 213.2L514.6 213.0L516.3 213.8L518.2 214.4L520.3 213.7L522.6 214.1L524.7 214.6L526.7 214.5L528.7 215.3L530.3 215.0L532.4 215.1L534.5 214.5" fill="none" stroke="#0000ff" stroke-width="1.00" stroke-linejoin="round"/><g fill="none" stroke="#0000ff" stroke-width="0.80"><circle cx="333.5" cy="192.5" r="2.00"/><circle cx="336.0" cy="213.0" r="2.00"/><circle cx="338.0" cy="213.4" r="2.00"/><circle cx="339.8" cy="213.0" r="2.00"/><circle cx="342.1" cy="212.4" r="2.00"/><circle cx="344.2" cy="213.1" r="2.00"/><circle cx="345.8" cy="211.7" r="2.00"/><circle cx="348.0" cy="211.5" r="2.00"/><circle cx="349.8" cy="211.7" r="2.00"/><circle cx="351.9" cy="212.7" r="2.00"/><circle cx="354.0" cy="211.3" r="2.00"/><circle cx="356.0" cy="212.1" r="2.00"/><circle cx="358.0" cy="211.4" r="2.00"/><circle cx="359.8" cy="211.0" r="2.00"/><circle cx="362.3" cy="212.6" r="2.00"/><circle cx="363.9" cy="212.4" r="2.00"/><circle cx="366.3" cy="211.8" r="2.00"/><circle cx="367.9" cy="211.5" r="2.00"/><circle cx="370.1" cy="210.6" r="2.00"/><circle cx="372.1" cy="210.0" r="2.00"/><circle cx="374.3" cy="211.1" r="2.00"/><circle cx="376.2" cy="211.4" r="2.00"/><circle cx="378.2" cy="209.4" r="2.00"/><circle cx="380.0" cy="209.3" r="2.00"/><circle cx="381.9" cy="211.0" r="2.00"/><circle cx="384.3" cy="209.9" r="2.00"/><circle cx="386.0" cy="211.1" r="2.00"/><circle cx="388.3" cy="212.2" r="2.00"/><circle cx="390.0" cy="212.2" r="2.00"/><circle cx="392.3" cy="212.5" r="2.00"/><circle cx="394.1" cy="211.6" r="2.00"/><circle cx="396.3" cy="212.1" r="2.00"/><circle cx="398.1" cy="212.7" r="2.00"/><circle cx="400.1" cy="213.4" r="2.00"/><circle cx="402.0" cy="211.5" r="2.00"/><circle cx="404.2" cy="213.0" r="2.00"/><circle cx="406.3" cy="213.2" r="2.00"/><circle cx="408.4" cy="213.8" r="2.00"/><circle cx="410.2" cy="212.8" r="2.00"/><circle cx="412.0" cy="212.4" r="2.00"/><circle cx="414.2" cy="211.9" r="2.00"/><circle cx="416.3" cy="212.1" r="2.00"/><circle cx="418.2" cy="214.1" r="2.00"/><circle cx="420.0" cy="211.9" r="2.00"/><circle cx="422.2" cy="212.3" r="2.00"/><circle cx="424.3" cy="211.9" r="2.00"/><circle cx="426.4" cy="214.0" r="2.00"/><circle cx="428.4" cy="213.0" r="2.00"/><circle cx="430.1" cy="213.6" r="2.00"/><circle cx="432.2" cy="213.0" r="2.00"/><circle cx="434.2" cy="213.1" r="2.00"/><circle cx="436.3" cy="214.1" r="2.00"/><circle cx="438.5" cy="212.5" r="2.00"/><circle cx="440.2" cy="213.2" r="2.00"/><circle cx="442.3" cy="213.0" r="2.00"/><circle cx="444.1" cy="212.4" r="2.00"/><circle cx="446.2" cy="213.3" r="2.00"/><circle cx="448.5" cy="214.5" r="2.00"/><circle cx="450.5" cy="214.6" r="2.00"/><circle cx="452.5" cy="213.8" r="2.00"/><circle cx="454.5" cy="212.4" r="2.00"/><circle cx="456.4" cy="213.8" r="2.00"/><circle cx="458.2" cy="213.7" r="2.00"/><circle cx="460.5" cy="213.5" r="2.00"/><circle cx="462.4" cy="213.0" r="2.00"/><circle cx="464.2" cy="214.4" r="2.00"/><circle cx="466.1" cy="212.8" r="2.00"/><circle cx="468.4" cy="213.4" r="2.00"/><circle cx="470.1" cy="213.9" r="2.00"/><circle cx="472.3" cy="213.7" r="2.00"/><circle cx="474.3" cy="213.6" r="2.00"/><circle cx="476.4" cy="213.3" r="2.00"/><circle cx="478.2" cy="212.7" r="2.00"/><circle cx="480.6" cy="213.6" r="2.00"/><circle cx="482.2" cy="214.4" r="2.00"/><circle cx="484.3" cy="212.6" r="2.00"/><circle cx="486.4" cy="213.0" r="2.00"/><circle cx="488.4" cy="213.8" r="2.00"/><circle cx="490.3" cy="213.8" r="2.00"/><circle cx="492.2" cy="213.7" r="2.00"/><circle cx="494.4" cy="212.7" r="2.00"/><circle cx="496.4" cy="212.7" r="2.00"/><circle cx="498.4" cy="214.7" r="2.00"/><circle cx="500.4" cy="214.4" r="2.00"/><circle cx="502.5" cy="212.9" r="2.00"/><circle cx="504.7" cy="214.4" r="2.00"/><circle cx="506.2" cy="214.7" r="2.00"/><circle cx="508.4" cy="213.2" r="2.00"/><circle cx="510.7" cy="214.2" r="2.00"/><circle cx="512.6" cy="213.2" r="2.00"/><circle cx="514.6" cy="213.0" r="2.00"/><circle cx="516.3" cy="213.8" r="2.00"/><circle cx="518.2" cy="214.4" r="2.00"/><circle cx="520.3" cy="213.7" r="2.00"/><circle cx="522.6" cy="214.1" r="2.00"/><circle cx="524.7" cy="214.6" r="2.00"/><circle cx="526.7" cy="214.5" r="2.00"/><circle cx="528.7" cy="215.3" r="2.00"/><circle cx="530.3" cy="215.0" r="2.00"/><circle cx="532.4" cy="215.1" r="2.00"/><circle cx="534.5" cy="214.5" r="2.00"/></g><path d="M334.2 189.6L334.6 214.0L336.0 209.6L337.3 209.7L338.2 207.5L339.8 208.3L341.0 204.9L342.1 204.2L343.3 205.3L344.3 204.9L345.8 202.2L346.8 201.9L348.3 201.5L349.2 199.1L350.4 200.5L351.6 199.1L353.0 198.5L353.4 216.0M357.0 216.0L357.5 200.0L358.6 198.2L359.8 194.4L361.3 194.3L362.4 194.0L363.7 190.7L364.6 190.2L365.9 191.5L367.2 188.5L368.1 190.0L369.6 188.3L370.7 187.2L372.0 187.4L373.2 187.6L374.0 186.4L375.3 187.7L376.7 185.0L377.7 185.6L379.0 186.0L380.2 185.2L381.2 185.8L382.6 184.3L383.8 187.0L384.8 185.0L386.3 185.9L387.3 187.0L388.5 187.9L389.8 189.9L391.3 188.3L392.2 191.4L393.6 192.6L394.7 193.4L395.7 193.6L397.2 195.8L398.4 195.8L399.3 196.5L400.7 196.1L401.9 195.9L403.0 196.2L404.0 196.2L405.3 198.2L406.6 196.6L407.7 196.3L408.9 196.1L409.9 198.2L411.3 196.9L412.6 196.4L413.6 195.6L414.9 196.2L416.3 196.7L417.6 196.0L418.8 196.6L419.5 195.3L421.0 197.5L422.1 196.8L423.3 196.9L424.3 195.7L425.9 195.0L426.8 194.2L428.0 194.7L429.4 194.5L430.5 194.3L431.8 196.0L433.0 194.1L434.2 196.1L435.4 193.9L436.7 196.4L437.6 194.5L438.8 195.9L440.3 196.4L441.5 195.5L442.5 196.5L442.8 216.0M448.4 216.0L449.0 199.0L450.1 198.2L451.5 196.8L452.7 196.1L453.6 195.8L454.8 195.9L456.1 195.1L457.5 193.8L458.6 192.4L460.1 193.3L461.3 191.3L462.3 192.5L463.4 190.1L464.5 189.6L466.0 188.8L467.2 189.1L468.3 189.0L469.5 188.8L470.7 187.6L472.0 187.1L473.2 188.2L474.4 186.6L475.6 188.3L476.7 186.2L477.9 187.9L478.9 185.1L480.3 186.8L481.7 185.9L483.0 185.4L484.1 184.9L484.9 185.0L486.1 186.4L487.6 185.9L489.0 186.7L489.8 186.6L491.3 188.9L492.2 186.6L493.7 187.4L495.0 188.3L496.0 188.1L497.3 189.1L498.3 191.5L499.4 191.9L500.6 192.3L501.9 193.4L503.0 193.2L504.3 194.5L505.8 194.1L506.7 193.4L507.9 194.3L509.1 193.9L510.5 195.3L511.5 196.5L512.7 195.7L513.9 196.9L515.4 195.6L516.6 197.6L517.5 196.7L518.8 198.8L519.9 198.7L521.3 198.7L522.5 200.6L523.5 201.4L524.8 201.9L526.3 201.1L527.5 204.2L528.4 203.0L529.5 207.3L530.6 208.6L531.9 209.3L533.1 208.9L534.5 211.0L535.5 214.0L534.0 216.5L532.5 213.0" fill="none" stroke="#ff0000" stroke-width="1.00" stroke-linejoin="round"/><g fill="none" stroke="#ff0000" stroke-width="0.80"><circle cx="334.2" cy="189.6" r="2.00"/><circle cx="336.0" cy="209.6" r="2.00"/><circle cx="337.3" cy="209.7" r="2.00"/><circle cx="338.2" cy="207.5" r="2.00"/><circle cx="339.8" cy="208.3" r="2.00"/><circle cx="341.0" cy="204.9" r="2.00"/><circle cx="342.1" cy="204.2" r="2.00"/><circle cx="343.3" cy="205.3" r="2.00"/><circle cx="344.3" cy="204.9" r="2.00"/><circle cx="345.8" cy="202.2" r="2.00"/><circle cx="346.8" cy="201.9" r="2.00"/><circle cx="348.3" cy="201.5" r="2.00"/><circle cx="349.2" cy="199.1" r="2.00"/><circle cx="350.4" cy="200.5" r="2.00"/><circle cx="351.6" cy="199.1" r="2.00"/><circle cx="353.0" cy="198.5" r="2.00"/><circle cx="357.5" cy="200.0" r="2.00"/><circle cx="358.6" cy="198.2" r="2.00"/><circle cx="359.8" cy="194.4" r="2.00"/><circle cx="361.3" cy="194.3" r="2.00"/><circle cx="362.4" cy="194.0" r="2.00"/><circle cx="363.7" cy="190.7" r="2.00"/><circle cx="364.6" cy="190.2" r="2.00"/><circle cx="365.9" cy="191.5" r="2.00"/><circle cx="367.2" cy="188.5" r="2.00"/><circle cx="368.1" cy="190.0" r="2.00"/><circle cx="369.6" cy="188.3" r="2.00"/><circle cx="370.7" cy="187.2" r="2.00"/><circle cx="372.0" cy="187.4" r="2.00"/><circle cx="373.2" cy="187.6" r="2.00"/><circle cx="374.0" cy="186.4" r="2.00"/><circle cx="375.3" cy="187.7" r="2.00"/><circle cx="376.7" cy="185.0" r="2.00"/><circle cx="377.7" cy="185.6" r="2.00"/><circle cx="379.0" cy="186.0" r="2.00"/><circle cx="380.2" cy="185.2" r="2.00"/><circle cx="381.2" cy="185.8" r="2.00"/><circle cx="382.6" cy="184.3" r="2.00"/><circle cx="383.8" cy="187.0" r="2.00"/><circle cx="384.8" cy="185.0" r="2.00"/><circle cx="386.3" cy="185.9" r="2.00"/><circle cx="387.3" cy="187.0" r="2.00"/><circle cx="388.5" cy="187.9" r="2.00"/><circle cx="389.8" cy="189.9" r="2.00"/><circle cx="391.3" cy="188.3" r="2.00"/><circle cx="392.2" cy="191.4" r="2.00"/><circle cx="393.6" cy="192.6" r="2.00"/><circle cx="394.7" cy="193.4" r="2.00"/><circle cx="395.7" cy="193.6" r="2.00"/><circle cx="397.2" cy="195.8" r="2.00"/><circle cx="398.4" cy="195.8" r="2.00"/><circle cx="399.3" cy="196.5" r="2.00"/><circle cx="400.7" cy="196.1" r="2.00"/><circle cx="401.9" cy="195.9" r="2.00"/><circle cx="403.0" cy="196.2" r="2.00"/><circle cx="404.0" cy="196.2" r="2.00"/><circle cx="405.3" cy="198.2" r="2.00"/><circle cx="406.6" cy="196.6" r="2.00"/><circle cx="407.7" cy="196.3" r="2.00"/><circle cx="408.9" cy="196.1" r="2.00"/><circle cx="409.9" cy="198.2" r="2.00"/><circle cx="411.3" cy="196.9" r="2.00"/><circle cx="412.6" cy="196.4" r="2.00"/><circle cx="413.6" cy="195.6" r="2.00"/><circle cx="414.9" cy="196.2" r="2.00"/><circle cx="416.3" cy="196.7" r="2.00"/><circle cx="417.6" cy="196.0" r="2.00"/><circle cx="418.8" cy="196.6" r="2.00"/><circle cx="419.5" cy="195.3" r="2.00"/><circle cx="421.0" cy="197.5" r="2.00"/><circle cx="422.1" cy="196.8" r="2.00"/><circle cx="423.3" cy="196.9" r="2.00"/><circle cx="424.3" cy="195.7" r="2.00"/><circle cx="425.9" cy="195.0" r="2.00"/><circle cx="426.8" cy="194.2" r="2.00"/><circle cx="428.0" cy="194.7" r="2.00"/><circle cx="429.4" cy="194.5" r="2.00"/><circle cx="430.5" cy="194.3" r="2.00"/><circle cx="431.8" cy="196.0" r="2.00"/><circle cx="433.0" cy="194.1" r="2.00"/><circle cx="434.2" cy="196.1" r="2.00"/><circle cx="435.4" cy="193.9" r="2.00"/><circle cx="436.7" cy="196.4" r="2.00"/><circle cx="437.6" cy="194.5" r="2.00"/><circle cx="438.8" cy="195.9" r="2.00"/><circle cx="440.3" cy="196.4" r="2.00"/><circle cx="441.5" cy="195.5" r="2.00"/><circle cx="442.5" cy="196.5" r="2.00"/><circle cx="449.0" cy="199.0" r="2.00"/><circle cx="450.1" cy="198.2" r="2.00"/><circle cx="451.5" cy="196.8" r="2.00"/><circle cx="452.7" cy="196.1" r="2.00"/><circle cx="453.6" cy="195.8" r="2.00"/><circle cx="454.8" cy="195.9" r="2.00"/><circle cx="456.1" cy="195.1" r="2.00"/><circle cx="457.5" cy="193.8" r="2.00"/><circle cx="458.6" cy="192.4" r="2.00"/><circle cx="460.1" cy="193.3" r="2.00"/><circle cx="461.3" cy="191.3" r="2.00"/><circle cx="462.3" cy="192.5" r="2.00"/><circle cx="463.4" cy="190.1" r="2.00"/><circle cx="464.5" cy="189.6" r="2.00"/><circle cx="466.0" cy="188.8" r="2.00"/><circle cx="467.2" cy="189.1" r="2.00"/><circle cx="468.3" cy="189.0" r="2.00"/><circle cx="469.5" cy="188.8" r="2.00"/><circle cx="470.7" cy="187.6" r="2.00"/><circle cx="472.0" cy="187.1" r="2.00"/><circle cx="473.2" cy="188.2" r="2.00"/><circle cx="474.4" cy="186.6" r="2.00"/><circle cx="475.6" cy="188.3" r="2.00"/><circle cx="476.7" cy="186.2" r="2.00"/><circle cx="477.9" cy="187.9" r="2.00"/><circle cx="478.9" cy="185.1" r="2.00"/><circle cx="480.3" cy="186.8" r="2.00"/><circle cx="481.7" cy="185.9" r="2.00"/><circle cx="483.0" cy="185.4" r="2.00"/><circle cx="484.1" cy="184.9" r="2.00"/><circle cx="484.9" cy="185.0" r="2.00"/><circle cx="486.1" cy="186.4" r="2.00"/><circle cx="487.6" cy="185.9" r="2.00"/><circle cx="489.0" cy="186.7" r="2.00"/><circle cx="489.8" cy="186.6" r="2.00"/><circle cx="491.3" cy="188.9" r="2.00"/><circle cx="492.2" cy="186.6" r="2.00"/><circle cx="493.7" cy="187.4" r="2.00"/><circle cx="495.0" cy="188.3" r="2.00"/><circle cx="496.0" cy="188.1" r="2.00"/><circle cx="497.3" cy="189.1" r="2.00"/><circle cx="498.3" cy="191.5" r="2.00"/><circle cx="499.4" cy="191.9" r="2.00"/><circle cx="500.6" cy="192.3" r="2.00"/><circle cx="501.9" cy="193.4" r="2.00"/><circle cx="503.0" cy="193.2" r="2.00"/><circle cx="504.3" cy="194.5" r="2.00"/><circle cx="505.8" cy="194.1" r="2.00"/><circle cx="506.7" cy="193.4" r="2.00"/><circle cx="507.9" cy="194.3" r="2.00"/><circle cx="509.1" cy="193.9" r="2.00"/><circle cx="510.5" cy="195.3" r="2.00"/><circle cx="511.5" cy="196.5" r="2.00"/><circle cx="512.7" cy="195.7" r="2.00"/><circle cx="513.9" cy="196.9" r="2.00"/><circle cx="515.4" cy="195.6" r="2.00"/><circle cx="516.6" cy="197.6" r="2.00"/><circle cx="517.5" cy="196.7" r="2.00"/><circle cx="518.8" cy="198.8" r="2.00"/><circle cx="519.9" cy="198.7" r="2.00"/><circle cx="521.3" cy="198.7" r="2.00"/><circle cx="522.5" cy="200.6" r="2.00"/><circle cx="523.5" cy="201.4" r="2.00"/><circle cx="524.8" cy="201.9" r="2.00"/><circle cx="526.3" cy="201.1" r="2.00"/><circle cx="527.5" cy="204.2" r="2.00"/><circle cx="528.4" cy="203.0" r="2.00"/><circle cx="529.5" cy="207.3" r="2.00"/><circle cx="530.6" cy="208.6" r="2.00"/><circle cx="531.9" cy="209.3" r="2.00"/><circle cx="533.1" cy="208.9" r="2.00"/><circle cx="534.5" cy="211.0" r="2.00"/><circle cx="535.5" cy="214.0" r="2.00"/><circle cx="534.0" cy="216.5" r="2.00"/><circle cx="532.5" cy="213.0" r="2.00"/></g><line x1="334.6" y1="190.0" x2="334.6" y2="217" stroke="#ff0000" stroke-width="1.4"/><line x1="353.4" y1="198.5" x2="353.4" y2="217" stroke="#ff0000" stroke-width="1.4"/><line x1="357.0" y1="200.0" x2="357.0" y2="217" stroke="#ff0000" stroke-width="1.4"/><line x1="442.8" y1="196.5" x2="442.8" y2="217" stroke="#ff0000" stroke-width="1.4"/><line x1="448.4" y1="199.0" x2="448.4" y2="217" stroke="#ff0000" stroke-width="1.4"/><line x1="334.3" y1="215.4" x2="340.8" y2="215.4" stroke="#444" stroke-width="1"/><text x="330.3" y="220.1" font-size="12.9" text-anchor="end" >0.00</text><line x1="334.3" y1="182.1" x2="340.8" y2="182.1" stroke="#444" stroke-width="1"/><text x="330.3" y="186.8" font-size="12.9" text-anchor="end" >0.02</text><line x1="334.3" y1="148.8" x2="340.8" y2="148.8" stroke="#444" stroke-width="1"/><text x="330.3" y="153.5" font-size="12.9" text-anchor="end" >0.04</text><line x1="334.3" y1="115.5" x2="340.8" y2="115.5" stroke="#444" stroke-width="1"/><text x="330.3" y="120.2" font-size="12.9" text-anchor="end" >0.06</text><line x1="334.3" y1="82.2" x2="340.8" y2="82.2" stroke="#444" stroke-width="1"/><text x="330.3" y="86.9" font-size="12.9" text-anchor="end" >0.08</text><line x1="334.3" y1="48.9" x2="340.8" y2="48.9" stroke="#444" stroke-width="1"/><text x="330.3" y="53.6" font-size="12.9" text-anchor="end" >0.10</text><text x="330.3" y="20.3" font-size="12.9" text-anchor="end" >0.12</text><text x="334.6" y="231.8" font-size="12.9" text-anchor="middle" >400</text><text x="401.3" y="231.8" font-size="12.9" text-anchor="middle" >800</text><text x="468.1" y="231.8" font-size="12.9" text-anchor="middle" >1200</text><text x="534.8" y="231.8" font-size="12.9" text-anchor="middle" >1600</text><text x="435.6" y="244.4" font-size="12.8" text-anchor="middle" >Wavelength / nm</text><text transform="translate(299.5,119.6) rotate(-90) scale(1.2,1)" font-size="10.5" text-anchor="middle">&#916;Absorbance</text><text x="269.3" y="15.4" font-size="17.0" text-anchor="start" fill="#1e1e1e">(<tspan stroke="#1e1e1e" stroke-width="0.6">b</tspan>)</text><line x1="485" y1="101.1" x2="503" y2="101.1" stroke="#000" stroke-width="1.5"/><circle cx="493.8" cy="101.1" r="2.1" fill="none" stroke="#000" stroke-width="0.8"/><text x="506.8" y="103.7" font-size="8.9" text-anchor="start" fill="#333" stroke="#333" stroke-width="0.2">10 ns</text><line x1="485" y1="112.2" x2="503" y2="112.2" stroke="#ff00ff" stroke-width="1.5"/><circle cx="493.8" cy="112.2" r="2.1" fill="none" stroke="#ff00ff" stroke-width="0.8"/><text x="506.8" y="114.8" font-size="8.9" text-anchor="start" fill="#333" stroke="#333" stroke-width="0.2">80 ns</text><line x1="485" y1="123.3" x2="503" y2="123.3" stroke="#ff0000" stroke-width="1.5"/><circle cx="493.8" cy="123.3" r="2.1" fill="none" stroke="#ff0000" stroke-width="0.8"/><text x="506.8" y="125.9" font-size="8.9" text-anchor="start" fill="#333" stroke="#333" stroke-width="0.2">160 ns</text><line x1="485" y1="134.4" x2="503" y2="134.4" stroke="#006a00" stroke-width="1.5"/><circle cx="493.8" cy="134.4" r="2.1" fill="none" stroke="#006a00" stroke-width="0.8"/><text x="506.8" y="137.0" font-size="8.9" text-anchor="start" fill="#333" stroke="#333" stroke-width="0.2">200 ns</text><line x1="485" y1="145.5" x2="503" y2="145.5" stroke="#0000ff" stroke-width="1.5"/><circle cx="493.8" cy="145.5" r="2.1" fill="none" stroke="#0000ff" stroke-width="0.8"/><text x="506.8" y="148.1" font-size="8.9" text-anchor="start" fill="#333" stroke="#333" stroke-width="0.2">600 ns</text><rect x="380.3" y="22.0" width="100.7" height="98.6" fill="#fff" stroke="#444" stroke-width="1"/><line x1="378.8" y1="120.6" x2="381.8" y2="120.6" stroke="#444" stroke-width="1"/><text transform="translate(377.00,124.60) scale(0.925,1)" font-size="13.0" text-anchor="end" >0.00</text><line x1="378.8" y1="100.9" x2="381.8" y2="100.9" stroke="#444" stroke-width="1"/><text transform="translate(377.00,104.88) scale(0.925,1)" font-size="13.0" text-anchor="end" >0.01</text><line x1="378.8" y1="81.2" x2="381.8" y2="81.2" stroke="#444" stroke-width="1"/><text transform="translate(377.00,85.16) scale(0.925,1)" font-size="13.0" text-anchor="end" >0.02</text><line x1="378.8" y1="61.4" x2="381.8" y2="61.4" stroke="#444" stroke-width="1"/><text transform="translate(377.00,65.44) scale(0.925,1)" font-size="13.0" text-anchor="end" >0.03</text><line x1="378.8" y1="41.7" x2="381.8" y2="41.7" stroke="#444" stroke-width="1"/><text transform="translate(377.00,45.72) scale(0.925,1)" font-size="13.0" text-anchor="end" >0.04</text><line x1="378.8" y1="22.0" x2="381.8" y2="22.0" stroke="#444" stroke-width="1"/><text transform="translate(377.00,26.00) scale(0.925,1)" font-size="13.0" text-anchor="end" >0.05</text><line x1="385.0" y1="120.6" x2="385.0" y2="118.6" stroke="#444" stroke-width="1"/><line x1="403.5" y1="120.6" x2="403.5" y2="118.6" stroke="#444" stroke-width="1"/><line x1="422.0" y1="120.6" x2="422.0" y2="118.6" stroke="#444" stroke-width="1"/><line x1="440.5" y1="120.6" x2="440.5" y2="118.6" stroke="#444" stroke-width="1"/><line x1="459.0" y1="120.6" x2="459.0" y2="118.6" stroke="#444" stroke-width="1"/><line x1="477.5" y1="120.6" x2="477.5" y2="118.6" stroke="#444" stroke-width="1"/><text transform="translate(385.00,134.60) scale(0.925,1)" font-size="13.0" text-anchor="middle" >0.0</text><text transform="translate(422.00,134.60) scale(0.925,1)" font-size="13.0" text-anchor="middle" >0.4</text><text transform="translate(459.00,134.60) scale(0.925,1)" font-size="13.0" text-anchor="middle" >0.8</text><text transform="translate(428.80,148.10) scale(0.925,1)" font-size="13.6" text-anchor="middle" >Time / &#181;s</text><text transform="translate(347.6,72.5) rotate(-90)" font-size="12" text-anchor="middle">&#916;A</text><line x1="400" y1="32.1" x2="423.6" y2="32.1" stroke="#6e6e6e" stroke-width="2"/><line x1="400" y1="46.5" x2="423.6" y2="46.5" stroke="#ff3030" stroke-width="1.1"/><text x="429.0" y="35.5" font-size="12.5" text-anchor="start" >660 nm</text><text x="430.0" y="50.3" font-size="12.5" text-anchor="start" >1020 nm</text><path d="M381.0 120.3 L381.9 120.3 L382.9 120.3 L383.9 120.3 L384.8 120.3 L385.3 100.0 L386.0 70.0 L387.0 48.0 L388.0 40.5 L389.2 42.0 L390.1 48.0 L391.0 54.0 L392.5 63.0 L394.0 72.4 L395.0 76.2 L396.0 80.0 L396.9 83.7 L397.9 87.3 L398.9 90.2 L400.0 93.0 L400.9 95.5 L401.9 96.8 L402.8 99.4 L403.9 102.0 L404.9 103.2 L406.0 105.1 L406.9 106.3 L407.7 105.8 L408.6 107.1 L409.4 109.0 L410.3 109.9 L411.1 109.3 L411.9 110.6 L412.7 110.6 L413.6 111.4 L414.4 111.4 L415.2 111.7 L416.0 113.8 L416.8 113.0 L417.7 114.1 L418.5 113.1 L419.4 114.0 L420.2 113.7 L421.0 114.4 L421.9 114.2 L422.7 115.3 L423.5 114.6 L424.3 115.7 L425.1 115.5 L425.9 115.0 L426.8 115.6 L427.6 116.0 L428.4 116.8 L429.2 116.1 L430.0 116.0 L430.8 117.3 L431.7 117.3 L432.5 117.1 L433.3 116.5 L434.2 116.4 L435.0 116.7 L435.8 116.5 L436.7 116.5 L437.5 117.3 L438.3 117.3 L439.2 117.6 L440.0 117.4 L440.8 116.9 L441.6 118.0 L442.4 118.0 L443.2 117.9 L444.0 118.0 L444.8 118.3 L445.6 118.8 L446.4 118.7 L447.2 118.5 L448.0 118.0 L448.8 118.0 L449.6 118.2 L450.4 119.1 L451.2 118.3 L452.0 118.3 L452.8 118.4 L453.6 118.0 L454.4 119.4 L455.2 117.8 L456.0 118.8 L456.8 119.4 L457.6 118.3 L458.4 118.9 L459.2 118.6 L460.0 118.4 L460.8 118.4 L461.6 118.3 L462.4 119.5 L463.2 119.4 L464.0 119.6 L464.8 118.3 L465.6 119.3 L466.5 118.8 L467.3 119.3 L468.2 119.2 L469.0 118.9 L469.9 120.0 L470.7 118.4 L471.6 119.7 L472.4 119.9 L473.2 119.3 L474.1 119.5 L474.9 120.2 L475.8 119.0 L476.6 119.7 L477.5 119.9 L478.3 119.3 L479.2 119.9 L480.0 119.6" fill="none" stroke="#111" stroke-width="0.9"/><path d="M381.0 120.3 L382.0 120.7 L383.0 121.0 L384.0 120.8 L385.0 120.5 L385.6 105.0 L386.5 80.0 L387.5 67.0 L388.4 64.5 L389.5 66.0 L391.0 70.0 L391.9 72.5 L392.9 74.9 L393.7 78.5 L394.5 82.0 L395.6 85.9 L396.6 89.8 L397.6 92.4 L398.5 95.0 L399.4 97.3 L400.3 99.5 L401.1 101.0 L402.0 102.3 L402.8 103.6 L403.6 104.3 L404.5 106.0 L405.3 107.1 L406.2 107.4 L407.1 108.8 L408.0 109.1 L408.9 110.7 L409.9 110.5 L410.8 111.4 L411.8 111.5 L412.7 112.0 L413.5 111.9 L414.3 112.0 L415.1 113.6 L415.9 113.3 L416.8 113.6 L417.6 113.9 L418.4 114.7 L419.2 114.1 L420.0 114.3 L420.8 115.5 L421.7 115.1 L422.5 115.6 L423.4 116.1 L424.2 116.4 L425.1 116.6 L425.9 115.5 L426.8 116.2 L427.6 117.1 L428.4 117.2 L429.3 116.2 L430.1 116.3 L430.9 116.6 L431.7 116.4 L432.6 116.9 L433.4 117.7 L434.2 117.4 L435.0 117.4 L435.9 116.9 L436.7 117.5 L437.5 118.5 L438.3 118.1 L439.2 117.8 L440.0 118.0 L440.8 118.5 L441.7 118.5 L442.5 117.6 L443.3 118.6 L444.1 118.1 L445.0 118.4 L445.8 118.0 L446.6 118.3 L447.4 118.3 L448.3 118.5 L449.1 118.0 L449.9 118.3 L450.7 119.0 L451.6 118.2 L452.4 118.5 L453.2 119.4 L454.0 118.7 L454.9 118.8 L455.7 118.7 L456.5 119.6 L457.3 118.4 L458.1 119.3 L459.0 119.7 L459.8 118.7 L460.6 119.0 L461.4 119.7 L462.2 119.4 L463.1 119.0 L463.9 118.5 L464.7 119.2 L465.5 119.1 L466.3 119.6 L467.2 119.0 L468.0 119.2 L468.8 119.6 L469.6 119.8 L470.4 119.1 L471.3 119.2 L472.1 119.5 L472.9 120.1 L473.7 118.9 L474.5 120.2 L475.4 119.8 L476.2 119.3 L477.0 119.8 L478.0 119.3 L479.0 118.9 L480.0 119.6" fill="none" stroke="#ff1a1a" stroke-width="0.9"/></svg></body></html>
